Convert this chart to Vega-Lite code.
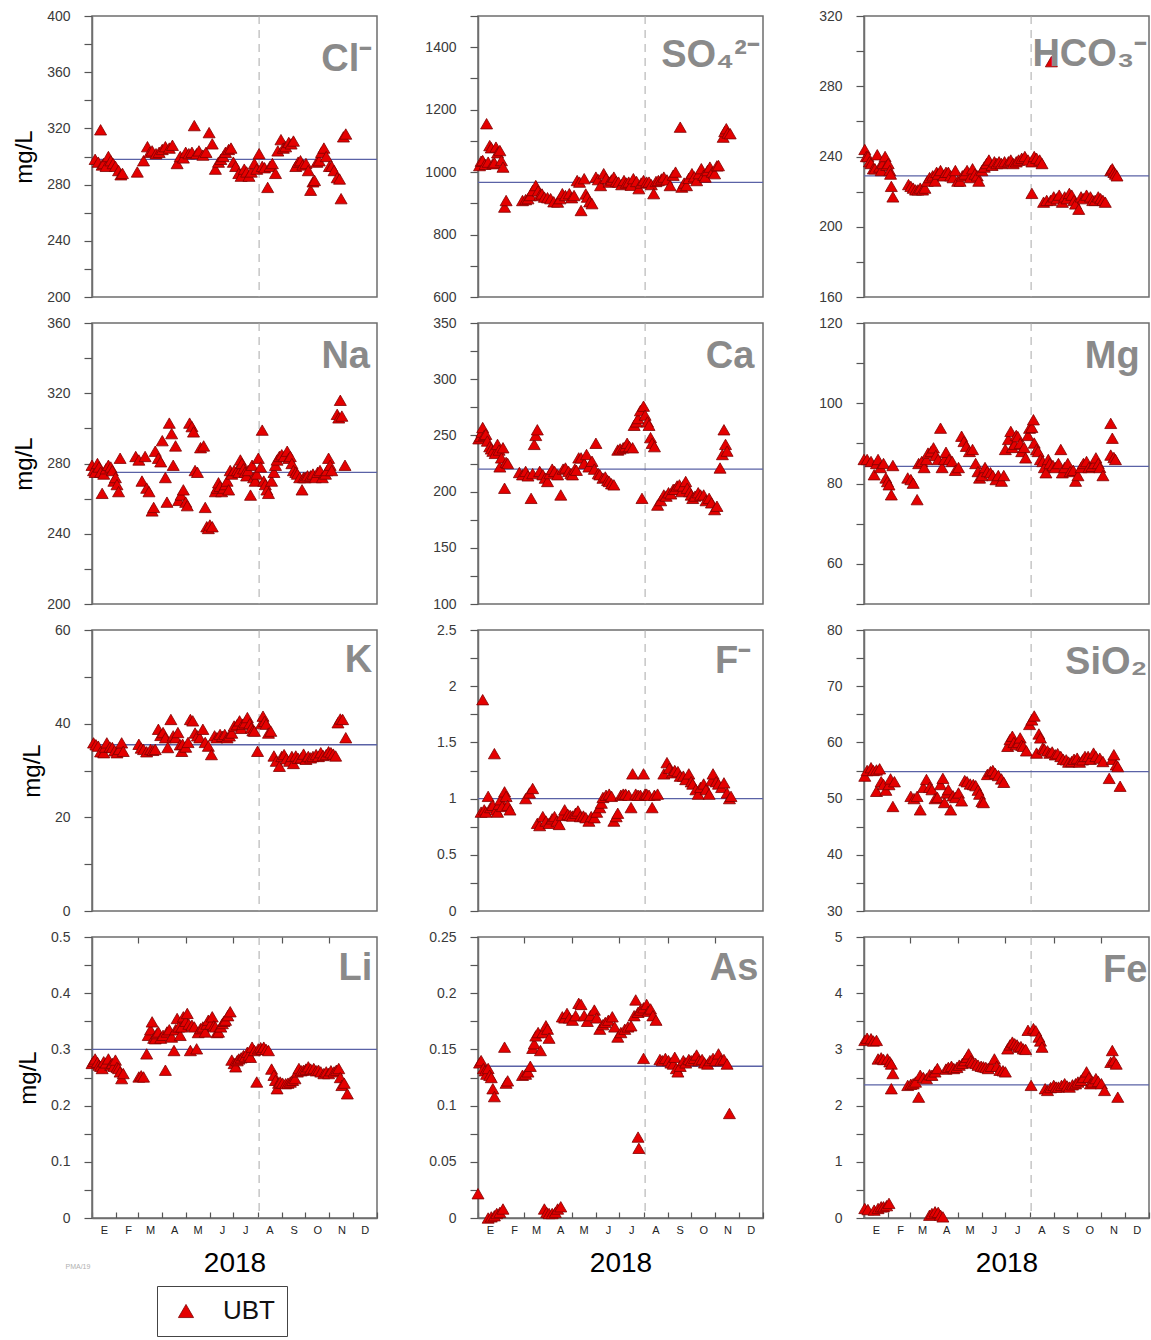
{
"$schema":"https://vega.github.io/schema/vega-lite/v6.json",
"background":"white",
"padding":{"left":11,"top":8,"right":0,"bottom":0},
"config":{
 "font":"Liberation Sans",
 "view":{"stroke":"#6e6e6e","strokeWidth":1.5},
 "axis":{"labelFont":"Liberation Sans","labelFontSize":14,"labelColor":"#3a3a3a","tickColor":"#555","domainColor":"#6e6e6e","domainWidth":1.5,"tickWidth":1.2,"grid":false,"labelFlush":false,"labelOverlap":false,"titleFont":"Liberation Sans","titleFontWeight":"normal","titleColor":"#000"},
 "legend":{"orient":"none","legendX":65,"legendY":1270,"strokeColor":"#444","padding":12,"symbolType":"triangle-up","symbolSize":230,"symbolOffset":4,"symbolStrokeColor":"#800000","symbolStrokeWidth":0.8,"labelFontSize":26,"labelFont":"Liberation Sans","labelColor":"#111","labelOffset":24,"fillColor":"white"}
},
"datasets":{
"ref":[
{"ion":"Cl","mean":298,"cut":214,"label":"Cl⁻"},
{"ion":"SO4","mean":967,"cut":214,"label":"SO₄²⁻"},
{"ion":"HCO3","mean":229,"cut":214,"label":"HCO₃⁻"},
{"ion":"Na","mean":275,"cut":214,"label":"Na"},
{"ion":"Ca","mean":220,"cut":214,"label":"Ca"},
{"ion":"Mg","mean":84.3,"cut":214,"label":"Mg"},
{"ion":"K","mean":35.5,"cut":214,"label":"K"},
{"ion":"F","mean":1.0,"cut":214,"label":"F⁻"},
{"ion":"SiO2","mean":54.8,"cut":214,"label":"SiO₂"},
{"ion":"Li","mean":0.3,"cut":214,"label":"Li"},
{"ion":"As","mean":0.135,"cut":214,"label":"As"},
{"ion":"Fe","mean":2.37,"cut":214,"label":"Fe"}
],
"pts":[
{"ion":"Cl","day":4,"val":298,"site":"UBT"},{"ion":"Cl","day":8,"val":296,"site":"UBT"},{"ion":"Cl","day":11,"val":319,"site":"UBT"},{"ion":"Cl","day":13,"val":294,"site":"UBT"},{"ion":"Cl","day":15,"val":295,"site":"UBT"},{"ion":"Cl","day":18,"val":293,"site":"UBT"},{"ion":"Cl","day":21,"val":300,"site":"UBT"},{"ion":"Cl","day":24,"val":297,"site":"UBT"},{"ion":"Cl","day":27,"val":295,"site":"UBT"},{"ion":"Cl","day":30,"val":293,"site":"UBT"},{"ion":"Cl","day":34,"val":290,"site":"UBT"},{"ion":"Cl","day":37,"val":287,"site":"UBT"},{"ion":"Cl","day":39,"val":288,"site":"UBT"},{"ion":"Cl","day":58,"val":289,"site":"UBT"},{"ion":"Cl","day":66,"val":297,"site":"UBT"},{"ion":"Cl","day":71,"val":307,"site":"UBT"},{"ion":"Cl","day":74,"val":303,"site":"UBT"},{"ion":"Cl","day":77,"val":304,"site":"UBT"},{"ion":"Cl","day":82,"val":302,"site":"UBT"},{"ion":"Cl","day":86,"val":303,"site":"UBT"},{"ion":"Cl","day":90,"val":305,"site":"UBT"},{"ion":"Cl","day":94,"val":307,"site":"UBT"},{"ion":"Cl","day":99,"val":306,"site":"UBT"},{"ion":"Cl","day":103,"val":308,"site":"UBT"},{"ion":"Cl","day":109,"val":295,"site":"UBT"},{"ion":"Cl","day":113,"val":300,"site":"UBT"},{"ion":"Cl","day":117,"val":299,"site":"UBT"},{"ion":"Cl","day":120,"val":303,"site":"UBT"},{"ion":"Cl","day":124,"val":302,"site":"UBT"},{"ion":"Cl","day":128,"val":303,"site":"UBT"},{"ion":"Cl","day":131,"val":322,"site":"UBT"},{"ion":"Cl","day":134,"val":302,"site":"UBT"},{"ion":"Cl","day":137,"val":304,"site":"UBT"},{"ion":"Cl","day":142,"val":301,"site":"UBT"},{"ion":"Cl","day":146,"val":303,"site":"UBT"},{"ion":"Cl","day":150,"val":317,"site":"UBT"},{"ion":"Cl","day":154,"val":309,"site":"UBT"},{"ion":"Cl","day":158,"val":291,"site":"UBT"},{"ion":"Cl","day":162,"val":296,"site":"UBT"},{"ion":"Cl","day":165,"val":298,"site":"UBT"},{"ion":"Cl","day":168,"val":300,"site":"UBT"},{"ion":"Cl","day":171,"val":303,"site":"UBT"},{"ion":"Cl","day":175,"val":305,"site":"UBT"},{"ion":"Cl","day":178,"val":306,"site":"UBT"},{"ion":"Cl","day":181,"val":296,"site":"UBT"},{"ion":"Cl","day":184,"val":293,"site":"UBT"},{"ion":"Cl","day":188,"val":288,"site":"UBT"},{"ion":"Cl","day":191,"val":286,"site":"UBT"},{"ion":"Cl","day":195,"val":291,"site":"UBT"},{"ion":"Cl","day":198,"val":289,"site":"UBT"},{"ion":"Cl","day":201,"val":286,"site":"UBT"},{"ion":"Cl","day":204,"val":289,"site":"UBT"},{"ion":"Cl","day":208,"val":295,"site":"UBT"},{"ion":"Cl","day":211,"val":291,"site":"UBT"},{"ion":"Cl","day":214,"val":302,"site":"UBT"},{"ion":"Cl","day":218,"val":293,"site":"UBT"},{"ion":"Cl","day":221,"val":292,"site":"UBT"},{"ion":"Cl","day":225,"val":278,"site":"UBT"},{"ion":"Cl","day":228,"val":293,"site":"UBT"},{"ion":"Cl","day":231,"val":295,"site":"UBT"},{"ion":"Cl","day":235,"val":288,"site":"UBT"},{"ion":"Cl","day":238,"val":304,"site":"UBT"},{"ion":"Cl","day":242,"val":312,"site":"UBT"},{"ion":"Cl","day":245,"val":306,"site":"UBT"},{"ion":"Cl","day":248,"val":307,"site":"UBT"},{"ion":"Cl","day":252,"val":310,"site":"UBT"},{"ion":"Cl","day":255,"val":309,"site":"UBT"},{"ion":"Cl","day":258,"val":311,"site":"UBT"},{"ion":"Cl","day":261,"val":293,"site":"UBT"},{"ion":"Cl","day":264,"val":296,"site":"UBT"},{"ion":"Cl","day":267,"val":297,"site":"UBT"},{"ion":"Cl","day":270,"val":294,"site":"UBT"},{"ion":"Cl","day":274,"val":295,"site":"UBT"},{"ion":"Cl","day":277,"val":290,"site":"UBT"},{"ion":"Cl","day":280,"val":276,"site":"UBT"},{"ion":"Cl","day":283,"val":282,"site":"UBT"},{"ion":"Cl","day":285,"val":283,"site":"UBT"},{"ion":"Cl","day":288,"val":296,"site":"UBT"},{"ion":"Cl","day":291,"val":297,"site":"UBT"},{"ion":"Cl","day":294,"val":303,"site":"UBT"},{"ion":"Cl","day":297,"val":306,"site":"UBT"},{"ion":"Cl","day":300,"val":300,"site":"UBT"},{"ion":"Cl","day":304,"val":293,"site":"UBT"},{"ion":"Cl","day":307,"val":293,"site":"UBT"},{"ion":"Cl","day":310,"val":290,"site":"UBT"},{"ion":"Cl","day":314,"val":285,"site":"UBT"},{"ion":"Cl","day":317,"val":284,"site":"UBT"},{"ion":"Cl","day":319,"val":270,"site":"UBT"},{"ion":"Cl","day":322,"val":314,"site":"UBT"},{"ion":"Cl","day":325,"val":316,"site":"UBT"},
{"ion":"SO4","day":2,"val":1021,"site":"UBT"},{"ion":"SO4","day":4,"val":1035,"site":"UBT"},{"ion":"SO4","day":6,"val":1037,"site":"UBT"},{"ion":"SO4","day":9,"val":1025,"site":"UBT"},{"ion":"SO4","day":11,"val":1155,"site":"UBT"},{"ion":"SO4","day":13,"val":1032,"site":"UBT"},{"ion":"SO4","day":15,"val":1085,"site":"UBT"},{"ion":"SO4","day":17,"val":1078,"site":"UBT"},{"ion":"SO4","day":19,"val":1027,"site":"UBT"},{"ion":"SO4","day":21,"val":1030,"site":"UBT"},{"ion":"SO4","day":23,"val":1080,"site":"UBT"},{"ion":"SO4","day":25,"val":1062,"site":"UBT"},{"ion":"SO4","day":28,"val":1069,"site":"UBT"},{"ion":"SO4","day":30,"val":1037,"site":"UBT"},{"ion":"SO4","day":32,"val":1016,"site":"UBT"},{"ion":"SO4","day":34,"val":888,"site":"UBT"},{"ion":"SO4","day":36,"val":909,"site":"UBT"},{"ion":"SO4","day":57,"val":909,"site":"UBT"},{"ion":"SO4","day":61,"val":912,"site":"UBT"},{"ion":"SO4","day":64,"val":915,"site":"UBT"},{"ion":"SO4","day":67,"val":925,"site":"UBT"},{"ion":"SO4","day":70,"val":941,"site":"UBT"},{"ion":"SO4","day":74,"val":957,"site":"UBT"},{"ion":"SO4","day":77,"val":940,"site":"UBT"},{"ion":"SO4","day":79,"val":925,"site":"UBT"},{"ion":"SO4","day":82,"val":930,"site":"UBT"},{"ion":"SO4","day":85,"val":920,"site":"UBT"},{"ion":"SO4","day":89,"val":918,"site":"UBT"},{"ion":"SO4","day":93,"val":915,"site":"UBT"},{"ion":"SO4","day":97,"val":905,"site":"UBT"},{"ion":"SO4","day":102,"val":904,"site":"UBT"},{"ion":"SO4","day":105,"val":915,"site":"UBT"},{"ion":"SO4","day":108,"val":931,"site":"UBT"},{"ion":"SO4","day":112,"val":925,"site":"UBT"},{"ion":"SO4","day":117,"val":931,"site":"UBT"},{"ion":"SO4","day":120,"val":918,"site":"UBT"},{"ion":"SO4","day":123,"val":925,"site":"UBT"},{"ion":"SO4","day":127,"val":973,"site":"UBT"},{"ion":"SO4","day":130,"val":968,"site":"UBT"},{"ion":"SO4","day":132,"val":877,"site":"UBT"},{"ion":"SO4","day":136,"val":979,"site":"UBT"},{"ion":"SO4","day":138,"val":930,"site":"UBT"},{"ion":"SO4","day":140,"val":920,"site":"UBT"},{"ion":"SO4","day":143,"val":905,"site":"UBT"},{"ion":"SO4","day":146,"val":899,"site":"UBT"},{"ion":"SO4","day":151,"val":984,"site":"UBT"},{"ion":"SO4","day":154,"val":976,"site":"UBT"},{"ion":"SO4","day":157,"val":957,"site":"UBT"},{"ion":"SO4","day":161,"val":995,"site":"UBT"},{"ion":"SO4","day":164,"val":980,"site":"UBT"},{"ion":"SO4","day":168,"val":968,"site":"UBT"},{"ion":"SO4","day":171,"val":975,"site":"UBT"},{"ion":"SO4","day":174,"val":984,"site":"UBT"},{"ion":"SO4","day":177,"val":970,"site":"UBT"},{"ion":"SO4","day":180,"val":968,"site":"UBT"},{"ion":"SO4","day":184,"val":960,"site":"UBT"},{"ion":"SO4","day":187,"val":973,"site":"UBT"},{"ion":"SO4","day":190,"val":965,"site":"UBT"},{"ion":"SO4","day":193,"val":968,"site":"UBT"},{"ion":"SO4","day":196,"val":958,"site":"UBT"},{"ion":"SO4","day":199,"val":979,"site":"UBT"},{"ion":"SO4","day":203,"val":970,"site":"UBT"},{"ion":"SO4","day":206,"val":947,"site":"UBT"},{"ion":"SO4","day":209,"val":965,"site":"UBT"},{"ion":"SO4","day":212,"val":973,"site":"UBT"},{"ion":"SO4","day":216,"val":968,"site":"UBT"},{"ion":"SO4","day":219,"val":968,"site":"UBT"},{"ion":"SO4","day":222,"val":960,"site":"UBT"},{"ion":"SO4","day":225,"val":931,"site":"UBT"},{"ion":"SO4","day":228,"val":970,"site":"UBT"},{"ion":"SO4","day":231,"val":973,"site":"UBT"},{"ion":"SO4","day":235,"val":978,"site":"UBT"},{"ion":"SO4","day":238,"val":984,"site":"UBT"},{"ion":"SO4","day":242,"val":975,"site":"UBT"},{"ion":"SO4","day":246,"val":957,"site":"UBT"},{"ion":"SO4","day":250,"val":990,"site":"UBT"},{"ion":"SO4","day":253,"val":1000,"site":"UBT"},{"ion":"SO4","day":259,"val":1144,"site":"UBT"},{"ion":"SO4","day":261,"val":952,"site":"UBT"},{"ion":"SO4","day":264,"val":965,"site":"UBT"},{"ion":"SO4","day":267,"val":957,"site":"UBT"},{"ion":"SO4","day":270,"val":980,"site":"UBT"},{"ion":"SO4","day":274,"val":995,"site":"UBT"},{"ion":"SO4","day":277,"val":985,"site":"UBT"},{"ion":"SO4","day":280,"val":973,"site":"UBT"},{"ion":"SO4","day":283,"val":995,"site":"UBT"},{"ion":"SO4","day":286,"val":1011,"site":"UBT"},{"ion":"SO4","day":289,"val":990,"site":"UBT"},{"ion":"SO4","day":291,"val":984,"site":"UBT"},{"ion":"SO4","day":294,"val":1005,"site":"UBT"},{"ion":"SO4","day":297,"val":1016,"site":"UBT"},{"ion":"SO4","day":300,"val":1000,"site":"UBT"},{"ion":"SO4","day":303,"val":995,"site":"UBT"},{"ion":"SO4","day":306,"val":1020,"site":"UBT"},{"ion":"SO4","day":308,"val":1021,"site":"UBT"},{"ion":"SO4","day":314,"val":1112,"site":"UBT"},{"ion":"SO4","day":316,"val":1130,"site":"UBT"},{"ion":"SO4","day":318,"val":1139,"site":"UBT"},{"ion":"SO4","day":320,"val":1125,"site":"UBT"},{"ion":"SO4","day":323,"val":1123,"site":"UBT"},
{"ion":"HCO3","day":1,"val":244,"site":"UBT"},{"ion":"HCO3","day":3,"val":240,"site":"UBT"},{"ion":"HCO3","day":5,"val":240,"site":"UBT"},{"ion":"HCO3","day":7,"val":237,"site":"UBT"},{"ion":"HCO3","day":9,"val":236,"site":"UBT"},{"ion":"HCO3","day":12,"val":233,"site":"UBT"},{"ion":"HCO3","day":14,"val":233,"site":"UBT"},{"ion":"HCO3","day":17,"val":241,"site":"UBT"},{"ion":"HCO3","day":20,"val":234,"site":"UBT"},{"ion":"HCO3","day":22,"val":232,"site":"UBT"},{"ion":"HCO3","day":24,"val":236,"site":"UBT"},{"ion":"HCO3","day":27,"val":240,"site":"UBT"},{"ion":"HCO3","day":29,"val":235,"site":"UBT"},{"ion":"HCO3","day":31,"val":236,"site":"UBT"},{"ion":"HCO3","day":33,"val":232,"site":"UBT"},{"ion":"HCO3","day":34,"val":230,"site":"UBT"},{"ion":"HCO3","day":35,"val":223,"site":"UBT"},{"ion":"HCO3","day":37,"val":217,"site":"UBT"},{"ion":"HCO3","day":57,"val":224,"site":"UBT"},{"ion":"HCO3","day":60,"val":223,"site":"UBT"},{"ion":"HCO3","day":63,"val":222,"site":"UBT"},{"ion":"HCO3","day":66,"val":221,"site":"UBT"},{"ion":"HCO3","day":69,"val":221,"site":"UBT"},{"ion":"HCO3","day":72,"val":222,"site":"UBT"},{"ion":"HCO3","day":75,"val":221,"site":"UBT"},{"ion":"HCO3","day":78,"val":222,"site":"UBT"},{"ion":"HCO3","day":81,"val":226,"site":"UBT"},{"ion":"HCO3","day":84,"val":228,"site":"UBT"},{"ion":"HCO3","day":88,"val":229,"site":"UBT"},{"ion":"HCO3","day":91,"val":226,"site":"UBT"},{"ion":"HCO3","day":93,"val":231,"site":"UBT"},{"ion":"HCO3","day":95,"val":230,"site":"UBT"},{"ion":"HCO3","day":98,"val":232,"site":"UBT"},{"ion":"HCO3","day":102,"val":229,"site":"UBT"},{"ion":"HCO3","day":105,"val":231,"site":"UBT"},{"ion":"HCO3","day":108,"val":231,"site":"UBT"},{"ion":"HCO3","day":111,"val":229,"site":"UBT"},{"ion":"HCO3","day":114,"val":228,"site":"UBT"},{"ion":"HCO3","day":117,"val":232,"site":"UBT"},{"ion":"HCO3","day":120,"val":226,"site":"UBT"},{"ion":"HCO3","day":123,"val":226,"site":"UBT"},{"ion":"HCO3","day":126,"val":229,"site":"UBT"},{"ion":"HCO3","day":129,"val":230,"site":"UBT"},{"ion":"HCO3","day":132,"val":232,"site":"UBT"},{"ion":"HCO3","day":136,"val":228,"site":"UBT"},{"ion":"HCO3","day":139,"val":233,"site":"UBT"},{"ion":"HCO3","day":142,"val":230,"site":"UBT"},{"ion":"HCO3","day":145,"val":229,"site":"UBT"},{"ion":"HCO3","day":147,"val":226,"site":"UBT"},{"ion":"HCO3","day":151,"val":232,"site":"UBT"},{"ion":"HCO3","day":154,"val":234,"site":"UBT"},{"ion":"HCO3","day":157,"val":236,"site":"UBT"},{"ion":"HCO3","day":160,"val":238,"site":"UBT"},{"ion":"HCO3","day":164,"val":235,"site":"UBT"},{"ion":"HCO3","day":167,"val":237,"site":"UBT"},{"ion":"HCO3","day":170,"val":236,"site":"UBT"},{"ion":"HCO3","day":173,"val":237,"site":"UBT"},{"ion":"HCO3","day":176,"val":236,"site":"UBT"},{"ion":"HCO3","day":180,"val":237,"site":"UBT"},{"ion":"HCO3","day":185,"val":237,"site":"UBT"},{"ion":"HCO3","day":188,"val":238,"site":"UBT"},{"ion":"HCO3","day":191,"val":236,"site":"UBT"},{"ion":"HCO3","day":195,"val":237,"site":"UBT"},{"ion":"HCO3","day":198,"val":238,"site":"UBT"},{"ion":"HCO3","day":202,"val":239,"site":"UBT"},{"ion":"HCO3","day":206,"val":240,"site":"UBT"},{"ion":"HCO3","day":210,"val":238,"site":"UBT"},{"ion":"HCO3","day":215,"val":237,"site":"UBT"},{"ion":"HCO3","day":215,"val":219,"site":"UBT"},{"ion":"HCO3","day":218,"val":240,"site":"UBT"},{"ion":"HCO3","day":221,"val":239,"site":"UBT"},{"ion":"HCO3","day":225,"val":238,"site":"UBT"},{"ion":"HCO3","day":228,"val":236,"site":"UBT"},{"ion":"HCO3","day":230,"val":214,"site":"UBT"},{"ion":"HCO3","day":234,"val":215,"site":"UBT"},{"ion":"HCO3","day":239,"val":215,"site":"UBT"},{"ion":"HCO3","day":243,"val":217,"site":"UBT"},{"ion":"HCO3","day":247,"val":216,"site":"UBT"},{"ion":"HCO3","day":250,"val":218,"site":"UBT"},{"ion":"HCO3","day":254,"val":214,"site":"UBT"},{"ion":"HCO3","day":257,"val":217,"site":"UBT"},{"ion":"HCO3","day":260,"val":216,"site":"UBT"},{"ion":"HCO3","day":263,"val":219,"site":"UBT"},{"ion":"HCO3","day":266,"val":218,"site":"UBT"},{"ion":"HCO3","day":269,"val":215,"site":"UBT"},{"ion":"HCO3","day":271,"val":213,"site":"UBT"},{"ion":"HCO3","day":275,"val":210,"site":"UBT"},{"ion":"HCO3","day":278,"val":217,"site":"UBT"},{"ion":"HCO3","day":281,"val":216,"site":"UBT"},{"ion":"HCO3","day":285,"val":218,"site":"UBT"},{"ion":"HCO3","day":290,"val":217,"site":"UBT"},{"ion":"HCO3","day":293,"val":215,"site":"UBT"},{"ion":"HCO3","day":296,"val":215,"site":"UBT"},{"ion":"HCO3","day":300,"val":217,"site":"UBT"},{"ion":"HCO3","day":303,"val":216,"site":"UBT"},{"ion":"HCO3","day":306,"val":215,"site":"UBT"},{"ion":"HCO3","day":309,"val":214,"site":"UBT"},{"ion":"HCO3","day":316,"val":232,"site":"UBT"},{"ion":"HCO3","day":318,"val":233,"site":"UBT"},{"ion":"HCO3","day":320,"val":231,"site":"UBT"},{"ion":"HCO3","day":322,"val":230,"site":"UBT"},{"ion":"HCO3","day":324,"val":229,"site":"UBT"},{"ion":"HCO3","day":240,"val":294,"site":"UBT"},
{"ion":"Na","day":0,"val":279,"site":"UBT"},{"ion":"Na","day":2,"val":276,"site":"UBT"},{"ion":"Na","day":4,"val":275,"site":"UBT"},{"ion":"Na","day":7,"val":280,"site":"UBT"},{"ion":"Na","day":9,"val":278,"site":"UBT"},{"ion":"Na","day":11,"val":275,"site":"UBT"},{"ion":"Na","day":13,"val":263,"site":"UBT"},{"ion":"Na","day":15,"val":274,"site":"UBT"},{"ion":"Na","day":18,"val":277,"site":"UBT"},{"ion":"Na","day":21,"val":279,"site":"UBT"},{"ion":"Na","day":24,"val":278,"site":"UBT"},{"ion":"Na","day":26,"val":276,"site":"UBT"},{"ion":"Na","day":28,"val":270,"site":"UBT"},{"ion":"Na","day":30,"val":272,"site":"UBT"},{"ion":"Na","day":32,"val":268,"site":"UBT"},{"ion":"Na","day":34,"val":264,"site":"UBT"},{"ion":"Na","day":36,"val":283,"site":"UBT"},{"ion":"Na","day":56,"val":284,"site":"UBT"},{"ion":"Na","day":60,"val":282,"site":"UBT"},{"ion":"Na","day":64,"val":270,"site":"UBT"},{"ion":"Na","day":68,"val":284,"site":"UBT"},{"ion":"Na","day":70,"val":266,"site":"UBT"},{"ion":"Na","day":73,"val":264,"site":"UBT"},{"ion":"Na","day":77,"val":253,"site":"UBT"},{"ion":"Na","day":79,"val":255,"site":"UBT"},{"ion":"Na","day":81,"val":287,"site":"UBT"},{"ion":"Na","day":85,"val":283,"site":"UBT"},{"ion":"Na","day":88,"val":281,"site":"UBT"},{"ion":"Na","day":90,"val":293,"site":"UBT"},{"ion":"Na","day":94,"val":272,"site":"UBT"},{"ion":"Na","day":96,"val":258,"site":"UBT"},{"ion":"Na","day":99,"val":303,"site":"UBT"},{"ion":"Na","day":102,"val":297,"site":"UBT"},{"ion":"Na","day":104,"val":279,"site":"UBT"},{"ion":"Na","day":107,"val":290,"site":"UBT"},{"ion":"Na","day":111,"val":259,"site":"UBT"},{"ion":"Na","day":114,"val":262,"site":"UBT"},{"ion":"Na","day":117,"val":265,"site":"UBT"},{"ion":"Na","day":120,"val":258,"site":"UBT"},{"ion":"Na","day":122,"val":256,"site":"UBT"},{"ion":"Na","day":125,"val":303,"site":"UBT"},{"ion":"Na","day":128,"val":301,"site":"UBT"},{"ion":"Na","day":130,"val":298,"site":"UBT"},{"ion":"Na","day":132,"val":276,"site":"UBT"},{"ion":"Na","day":135,"val":275,"site":"UBT"},{"ion":"Na","day":139,"val":289,"site":"UBT"},{"ion":"Na","day":143,"val":290,"site":"UBT"},{"ion":"Na","day":145,"val":255,"site":"UBT"},{"ion":"Na","day":147,"val":244,"site":"UBT"},{"ion":"Na","day":149,"val":243,"site":"UBT"},{"ion":"Na","day":151,"val":245,"site":"UBT"},{"ion":"Na","day":154,"val":244,"site":"UBT"},{"ion":"Na","day":158,"val":264,"site":"UBT"},{"ion":"Na","day":160,"val":266,"site":"UBT"},{"ion":"Na","day":162,"val":269,"site":"UBT"},{"ion":"Na","day":164,"val":267,"site":"UBT"},{"ion":"Na","day":166,"val":264,"site":"UBT"},{"ion":"Na","day":169,"val":266,"site":"UBT"},{"ion":"Na","day":171,"val":268,"site":"UBT"},{"ion":"Na","day":173,"val":270,"site":"UBT"},{"ion":"Na","day":175,"val":265,"site":"UBT"},{"ion":"Na","day":177,"val":276,"site":"UBT"},{"ion":"Na","day":179,"val":274,"site":"UBT"},{"ion":"Na","day":182,"val":276,"site":"UBT"},{"ion":"Na","day":186,"val":276,"site":"UBT"},{"ion":"Na","day":188,"val":275,"site":"UBT"},{"ion":"Na","day":190,"val":282,"site":"UBT"},{"ion":"Na","day":192,"val":280,"site":"UBT"},{"ion":"Na","day":194,"val":277,"site":"UBT"},{"ion":"Na","day":196,"val":275,"site":"UBT"},{"ion":"Na","day":198,"val":273,"site":"UBT"},{"ion":"Na","day":200,"val":276,"site":"UBT"},{"ion":"Na","day":203,"val":262,"site":"UBT"},{"ion":"Na","day":205,"val":279,"site":"UBT"},{"ion":"Na","day":207,"val":272,"site":"UBT"},{"ion":"Na","day":209,"val":270,"site":"UBT"},{"ion":"Na","day":211,"val":274,"site":"UBT"},{"ion":"Na","day":213,"val":283,"site":"UBT"},{"ion":"Na","day":216,"val":278,"site":"UBT"},{"ion":"Na","day":218,"val":299,"site":"UBT"},{"ion":"Na","day":220,"val":270,"site":"UBT"},{"ion":"Na","day":222,"val":268,"site":"UBT"},{"ion":"Na","day":224,"val":265,"site":"UBT"},{"ion":"Na","day":226,"val":263,"site":"UBT"},{"ion":"Na","day":230,"val":270,"site":"UBT"},{"ion":"Na","day":233,"val":275,"site":"UBT"},{"ion":"Na","day":235,"val":279,"site":"UBT"},{"ion":"Na","day":237,"val":282,"site":"UBT"},{"ion":"Na","day":240,"val":284,"site":"UBT"},{"ion":"Na","day":243,"val":285,"site":"UBT"},{"ion":"Na","day":246,"val":284,"site":"UBT"},{"ion":"Na","day":250,"val":287,"site":"UBT"},{"ion":"Na","day":252,"val":283,"site":"UBT"},{"ion":"Na","day":254,"val":284,"site":"UBT"},{"ion":"Na","day":256,"val":280,"site":"UBT"},{"ion":"Na","day":258,"val":276,"site":"UBT"},{"ion":"Na","day":261,"val":275,"site":"UBT"},{"ion":"Na","day":263,"val":274,"site":"UBT"},{"ion":"Na","day":266,"val":272,"site":"UBT"},{"ion":"Na","day":269,"val":265,"site":"UBT"},{"ion":"Na","day":271,"val":272,"site":"UBT"},{"ion":"Na","day":273,"val":272,"site":"UBT"},{"ion":"Na","day":276,"val":273,"site":"UBT"},{"ion":"Na","day":280,"val":273,"site":"UBT"},{"ion":"Na","day":283,"val":274,"site":"UBT"},{"ion":"Na","day":286,"val":272,"site":"UBT"},{"ion":"Na","day":289,"val":275,"site":"UBT"},{"ion":"Na","day":292,"val":276,"site":"UBT"},{"ion":"Na","day":295,"val":272,"site":"UBT"},{"ion":"Na","day":299,"val":274,"site":"UBT"},{"ion":"Na","day":301,"val":276,"site":"UBT"},{"ion":"Na","day":303,"val":283,"site":"UBT"},{"ion":"Na","day":305,"val":279,"site":"UBT"},{"ion":"Na","day":307,"val":276,"site":"UBT"},{"ion":"Na","day":314,"val":308,"site":"UBT"},{"ion":"Na","day":316,"val":306,"site":"UBT"},{"ion":"Na","day":318,"val":316,"site":"UBT"},{"ion":"Na","day":320,"val":307,"site":"UBT"},{"ion":"Na","day":324,"val":279,"site":"UBT"},
{"ion":"Ca","day":1,"val":247,"site":"UBT"},{"ion":"Ca","day":3,"val":249,"site":"UBT"},{"ion":"Ca","day":5,"val":253,"site":"UBT"},{"ion":"Ca","day":6,"val":257,"site":"UBT"},{"ion":"Ca","day":8,"val":250,"site":"UBT"},{"ion":"Ca","day":10,"val":251,"site":"UBT"},{"ion":"Ca","day":12,"val":245,"site":"UBT"},{"ion":"Ca","day":15,"val":240,"site":"UBT"},{"ion":"Ca","day":17,"val":238,"site":"UBT"},{"ion":"Ca","day":19,"val":236,"site":"UBT"},{"ion":"Ca","day":22,"val":234,"site":"UBT"},{"ion":"Ca","day":25,"val":242,"site":"UBT"},{"ion":"Ca","day":27,"val":237,"site":"UBT"},{"ion":"Ca","day":28,"val":222,"site":"UBT"},{"ion":"Ca","day":30,"val":230,"site":"UBT"},{"ion":"Ca","day":32,"val":239,"site":"UBT"},{"ion":"Ca","day":34,"val":203,"site":"UBT"},{"ion":"Ca","day":36,"val":226,"site":"UBT"},{"ion":"Ca","day":38,"val":225,"site":"UBT"},{"ion":"Ca","day":53,"val":217,"site":"UBT"},{"ion":"Ca","day":57,"val":215,"site":"UBT"},{"ion":"Ca","day":61,"val":218,"site":"UBT"},{"ion":"Ca","day":64,"val":214,"site":"UBT"},{"ion":"Ca","day":68,"val":194,"site":"UBT"},{"ion":"Ca","day":70,"val":216,"site":"UBT"},{"ion":"Ca","day":72,"val":242,"site":"UBT"},{"ion":"Ca","day":74,"val":250,"site":"UBT"},{"ion":"Ca","day":76,"val":255,"site":"UBT"},{"ion":"Ca","day":79,"val":218,"site":"UBT"},{"ion":"Ca","day":83,"val":215,"site":"UBT"},{"ion":"Ca","day":86,"val":212,"site":"UBT"},{"ion":"Ca","day":89,"val":209,"site":"UBT"},{"ion":"Ca","day":92,"val":216,"site":"UBT"},{"ion":"Ca","day":95,"val":220,"site":"UBT"},{"ion":"Ca","day":98,"val":218,"site":"UBT"},{"ion":"Ca","day":102,"val":215,"site":"UBT"},{"ion":"Ca","day":106,"val":197,"site":"UBT"},{"ion":"Ca","day":109,"val":220,"site":"UBT"},{"ion":"Ca","day":112,"val":221,"site":"UBT"},{"ion":"Ca","day":116,"val":218,"site":"UBT"},{"ion":"Ca","day":119,"val":216,"site":"UBT"},{"ion":"Ca","day":121,"val":215,"site":"UBT"},{"ion":"Ca","day":124,"val":220,"site":"UBT"},{"ion":"Ca","day":126,"val":219,"site":"UBT"},{"ion":"Ca","day":129,"val":230,"site":"UBT"},{"ion":"Ca","day":132,"val":230,"site":"UBT"},{"ion":"Ca","day":136,"val":225,"site":"UBT"},{"ion":"Ca","day":139,"val":233,"site":"UBT"},{"ion":"Ca","day":142,"val":222,"site":"UBT"},{"ion":"Ca","day":146,"val":227,"site":"UBT"},{"ion":"Ca","day":149,"val":220,"site":"UBT"},{"ion":"Ca","day":151,"val":243,"site":"UBT"},{"ion":"Ca","day":154,"val":216,"site":"UBT"},{"ion":"Ca","day":156,"val":215,"site":"UBT"},{"ion":"Ca","day":160,"val":212,"site":"UBT"},{"ion":"Ca","day":163,"val":213,"site":"UBT"},{"ion":"Ca","day":166,"val":210,"site":"UBT"},{"ion":"Ca","day":168,"val":209,"site":"UBT"},{"ion":"Ca","day":171,"val":207,"site":"UBT"},{"ion":"Ca","day":174,"val":206,"site":"UBT"},{"ion":"Ca","day":179,"val":237,"site":"UBT"},{"ion":"Ca","day":182,"val":238,"site":"UBT"},{"ion":"Ca","day":186,"val":239,"site":"UBT"},{"ion":"Ca","day":189,"val":240,"site":"UBT"},{"ion":"Ca","day":191,"val":243,"site":"UBT"},{"ion":"Ca","day":194,"val":240,"site":"UBT"},{"ion":"Ca","day":198,"val":239,"site":"UBT"},{"ion":"Ca","day":200,"val":259,"site":"UBT"},{"ion":"Ca","day":203,"val":262,"site":"UBT"},{"ion":"Ca","day":205,"val":265,"site":"UBT"},{"ion":"Ca","day":208,"val":272,"site":"UBT"},{"ion":"Ca","day":210,"val":194,"site":"UBT"},{"ion":"Ca","day":212,"val":276,"site":"UBT"},{"ion":"Ca","day":214,"val":268,"site":"UBT"},{"ion":"Ca","day":217,"val":262,"site":"UBT"},{"ion":"Ca","day":219,"val":259,"site":"UBT"},{"ion":"Ca","day":221,"val":248,"site":"UBT"},{"ion":"Ca","day":223,"val":243,"site":"UBT"},{"ion":"Ca","day":226,"val":240,"site":"UBT"},{"ion":"Ca","day":230,"val":188,"site":"UBT"},{"ion":"Ca","day":234,"val":192,"site":"UBT"},{"ion":"Ca","day":238,"val":197,"site":"UBT"},{"ion":"Ca","day":241,"val":196,"site":"UBT"},{"ion":"Ca","day":244,"val":199,"site":"UBT"},{"ion":"Ca","day":247,"val":198,"site":"UBT"},{"ion":"Ca","day":250,"val":202,"site":"UBT"},{"ion":"Ca","day":252,"val":202,"site":"UBT"},{"ion":"Ca","day":255,"val":205,"site":"UBT"},{"ion":"Ca","day":258,"val":206,"site":"UBT"},{"ion":"Ca","day":261,"val":200,"site":"UBT"},{"ion":"Ca","day":263,"val":205,"site":"UBT"},{"ion":"Ca","day":266,"val":209,"site":"UBT"},{"ion":"Ca","day":268,"val":203,"site":"UBT"},{"ion":"Ca","day":271,"val":200,"site":"UBT"},{"ion":"Ca","day":273,"val":197,"site":"UBT"},{"ion":"Ca","day":275,"val":194,"site":"UBT"},{"ion":"Ca","day":278,"val":196,"site":"UBT"},{"ion":"Ca","day":282,"val":199,"site":"UBT"},{"ion":"Ca","day":285,"val":197,"site":"UBT"},{"ion":"Ca","day":289,"val":197,"site":"UBT"},{"ion":"Ca","day":292,"val":192,"site":"UBT"},{"ion":"Ca","day":296,"val":194,"site":"UBT"},{"ion":"Ca","day":299,"val":190,"site":"UBT"},{"ion":"Ca","day":303,"val":184,"site":"UBT"},{"ion":"Ca","day":306,"val":187,"site":"UBT"},{"ion":"Ca","day":310,"val":221,"site":"UBT"},{"ion":"Ca","day":313,"val":233,"site":"UBT"},{"ion":"Ca","day":315,"val":255,"site":"UBT"},{"ion":"Ca","day":317,"val":242,"site":"UBT"},{"ion":"Ca","day":319,"val":236,"site":"UBT"},
{"ion":"Mg","day":0,"val":86,"site":"UBT"},{"ion":"Mg","day":4,"val":86,"site":"UBT"},{"ion":"Mg","day":9,"val":85.5,"site":"UBT"},{"ion":"Mg","day":13,"val":82.2,"site":"UBT"},{"ion":"Mg","day":16,"val":85,"site":"UBT"},{"ion":"Mg","day":18,"val":86,"site":"UBT"},{"ion":"Mg","day":21,"val":84,"site":"UBT"},{"ion":"Mg","day":25,"val":85,"site":"UBT"},{"ion":"Mg","day":28,"val":81.4,"site":"UBT"},{"ion":"Mg","day":30,"val":80.5,"site":"UBT"},{"ion":"Mg","day":32,"val":79.7,"site":"UBT"},{"ion":"Mg","day":35,"val":77.2,"site":"UBT"},{"ion":"Mg","day":37,"val":84.5,"site":"UBT"},{"ion":"Mg","day":56,"val":81.4,"site":"UBT"},{"ion":"Mg","day":60,"val":81,"site":"UBT"},{"ion":"Mg","day":63,"val":80.1,"site":"UBT"},{"ion":"Mg","day":68,"val":76,"site":"UBT"},{"ion":"Mg","day":70,"val":85,"site":"UBT"},{"ion":"Mg","day":74,"val":85.5,"site":"UBT"},{"ion":"Mg","day":77,"val":84,"site":"UBT"},{"ion":"Mg","day":80,"val":86,"site":"UBT"},{"ion":"Mg","day":82,"val":87.6,"site":"UBT"},{"ion":"Mg","day":86,"val":88,"site":"UBT"},{"ion":"Mg","day":89,"val":88.9,"site":"UBT"},{"ion":"Mg","day":92,"val":87,"site":"UBT"},{"ion":"Mg","day":95,"val":86,"site":"UBT"},{"ion":"Mg","day":98,"val":93.8,"site":"UBT"},{"ion":"Mg","day":100,"val":84,"site":"UBT"},{"ion":"Mg","day":103,"val":86,"site":"UBT"},{"ion":"Mg","day":105,"val":87.8,"site":"UBT"},{"ion":"Mg","day":109,"val":86,"site":"UBT"},{"ion":"Mg","day":113,"val":85.5,"site":"UBT"},{"ion":"Mg","day":117,"val":83.3,"site":"UBT"},{"ion":"Mg","day":121,"val":84,"site":"UBT"},{"ion":"Mg","day":125,"val":91.8,"site":"UBT"},{"ion":"Mg","day":128,"val":90.5,"site":"UBT"},{"ion":"Mg","day":131,"val":89.3,"site":"UBT"},{"ion":"Mg","day":135,"val":88,"site":"UBT"},{"ion":"Mg","day":139,"val":88.5,"site":"UBT"},{"ion":"Mg","day":143,"val":85,"site":"UBT"},{"ion":"Mg","day":146,"val":83,"site":"UBT"},{"ion":"Mg","day":148,"val":81.4,"site":"UBT"},{"ion":"Mg","day":151,"val":82,"site":"UBT"},{"ion":"Mg","day":155,"val":84,"site":"UBT"},{"ion":"Mg","day":158,"val":83,"site":"UBT"},{"ion":"Mg","day":162,"val":82.7,"site":"UBT"},{"ion":"Mg","day":165,"val":82,"site":"UBT"},{"ion":"Mg","day":169,"val":81,"site":"UBT"},{"ion":"Mg","day":172,"val":82,"site":"UBT"},{"ion":"Mg","day":176,"val":80.6,"site":"UBT"},{"ion":"Mg","day":179,"val":82,"site":"UBT"},{"ion":"Mg","day":181,"val":88.5,"site":"UBT"},{"ion":"Mg","day":185,"val":91,"site":"UBT"},{"ion":"Mg","day":188,"val":93,"site":"UBT"},{"ion":"Mg","day":190,"val":89,"site":"UBT"},{"ion":"Mg","day":193,"val":89.8,"site":"UBT"},{"ion":"Mg","day":195,"val":92,"site":"UBT"},{"ion":"Mg","day":197,"val":91.7,"site":"UBT"},{"ion":"Mg","day":200,"val":90,"site":"UBT"},{"ion":"Mg","day":202,"val":88,"site":"UBT"},{"ion":"Mg","day":205,"val":89,"site":"UBT"},{"ion":"Mg","day":207,"val":86.4,"site":"UBT"},{"ion":"Mg","day":210,"val":92,"site":"UBT"},{"ion":"Mg","day":212,"val":93.8,"site":"UBT"},{"ion":"Mg","day":215,"val":94,"site":"UBT"},{"ion":"Mg","day":217,"val":95.9,"site":"UBT"},{"ion":"Mg","day":218,"val":90.1,"site":"UBT"},{"ion":"Mg","day":221,"val":88.5,"site":"UBT"},{"ion":"Mg","day":223,"val":88,"site":"UBT"},{"ion":"Mg","day":226,"val":86,"site":"UBT"},{"ion":"Mg","day":229,"val":85.5,"site":"UBT"},{"ion":"Mg","day":231,"val":84,"site":"UBT"},{"ion":"Mg","day":233,"val":82.7,"site":"UBT"},{"ion":"Mg","day":236,"val":86,"site":"UBT"},{"ion":"Mg","day":238,"val":85,"site":"UBT"},{"ion":"Mg","day":242,"val":84.5,"site":"UBT"},{"ion":"Mg","day":245,"val":84,"site":"UBT"},{"ion":"Mg","day":249,"val":85,"site":"UBT"},{"ion":"Mg","day":252,"val":88.5,"site":"UBT"},{"ion":"Mg","day":254,"val":82.7,"site":"UBT"},{"ion":"Mg","day":257,"val":84,"site":"UBT"},{"ion":"Mg","day":261,"val":85,"site":"UBT"},{"ion":"Mg","day":264,"val":83,"site":"UBT"},{"ion":"Mg","day":268,"val":83.3,"site":"UBT"},{"ion":"Mg","day":271,"val":80.6,"site":"UBT"},{"ion":"Mg","day":274,"val":82,"site":"UBT"},{"ion":"Mg","day":278,"val":84,"site":"UBT"},{"ion":"Mg","day":281,"val":85,"site":"UBT"},{"ion":"Mg","day":285,"val":85.5,"site":"UBT"},{"ion":"Mg","day":288,"val":84,"site":"UBT"},{"ion":"Mg","day":292,"val":84.3,"site":"UBT"},{"ion":"Mg","day":295,"val":85,"site":"UBT"},{"ion":"Mg","day":297,"val":86.4,"site":"UBT"},{"ion":"Mg","day":300,"val":85,"site":"UBT"},{"ion":"Mg","day":302,"val":84,"site":"UBT"},{"ion":"Mg","day":306,"val":82,"site":"UBT"},{"ion":"Mg","day":316,"val":95,"site":"UBT"},{"ion":"Mg","day":318,"val":91.3,"site":"UBT"},{"ion":"Mg","day":316,"val":87.1,"site":"UBT"},{"ion":"Mg","day":320,"val":86.5,"site":"UBT"},{"ion":"Mg","day":322,"val":86,"site":"UBT"},
{"ion":"K","day":2,"val":35.9,"site":"UBT"},{"ion":"K","day":5,"val":35.5,"site":"UBT"},{"ion":"K","day":8,"val":35.2,"site":"UBT"},{"ion":"K","day":11,"val":34,"site":"UBT"},{"ion":"K","day":15,"val":33.8,"site":"UBT"},{"ion":"K","day":17,"val":35,"site":"UBT"},{"ion":"K","day":19,"val":35.9,"site":"UBT"},{"ion":"K","day":23,"val":35,"site":"UBT"},{"ion":"K","day":26,"val":34.9,"site":"UBT"},{"ion":"K","day":29,"val":34.2,"site":"UBT"},{"ion":"K","day":32,"val":33.8,"site":"UBT"},{"ion":"K","day":35,"val":34.5,"site":"UBT"},{"ion":"K","day":38,"val":35.9,"site":"UBT"},{"ion":"K","day":40,"val":34.1,"site":"UBT"},{"ion":"K","day":60,"val":35.6,"site":"UBT"},{"ion":"K","day":63,"val":34.8,"site":"UBT"},{"ion":"K","day":66,"val":34.5,"site":"UBT"},{"ion":"K","day":70,"val":34,"site":"UBT"},{"ion":"K","day":75,"val":34.5,"site":"UBT"},{"ion":"K","day":78,"val":34.3,"site":"UBT"},{"ion":"K","day":81,"val":34.5,"site":"UBT"},{"ion":"K","day":85,"val":38.8,"site":"UBT"},{"ion":"K","day":88,"val":37.5,"site":"UBT"},{"ion":"K","day":91,"val":38.1,"site":"UBT"},{"ion":"K","day":94,"val":37,"site":"UBT"},{"ion":"K","day":97,"val":34.9,"site":"UBT"},{"ion":"K","day":101,"val":40.9,"site":"UBT"},{"ion":"K","day":104,"val":37.4,"site":"UBT"},{"ion":"K","day":107,"val":37,"site":"UBT"},{"ion":"K","day":110,"val":38.1,"site":"UBT"},{"ion":"K","day":113,"val":35.5,"site":"UBT"},{"ion":"K","day":115,"val":34.1,"site":"UBT"},{"ion":"K","day":116,"val":35.6,"site":"UBT"},{"ion":"K","day":120,"val":35,"site":"UBT"},{"ion":"K","day":123,"val":36,"site":"UBT"},{"ion":"K","day":126,"val":40.9,"site":"UBT"},{"ion":"K","day":129,"val":40.6,"site":"UBT"},{"ion":"K","day":132,"val":38,"site":"UBT"},{"ion":"K","day":135,"val":37.4,"site":"UBT"},{"ion":"K","day":138,"val":37,"site":"UBT"},{"ion":"K","day":142,"val":38.8,"site":"UBT"},{"ion":"K","day":145,"val":36,"site":"UBT"},{"ion":"K","day":149,"val":35.2,"site":"UBT"},{"ion":"K","day":153,"val":33.4,"site":"UBT"},{"ion":"K","day":157,"val":37.4,"site":"UBT"},{"ion":"K","day":160,"val":37,"site":"UBT"},{"ion":"K","day":164,"val":37.7,"site":"UBT"},{"ion":"K","day":167,"val":37.3,"site":"UBT"},{"ion":"K","day":170,"val":37.7,"site":"UBT"},{"ion":"K","day":173,"val":37,"site":"UBT"},{"ion":"K","day":176,"val":37.4,"site":"UBT"},{"ion":"K","day":179,"val":38,"site":"UBT"},{"ion":"K","day":182,"val":39.5,"site":"UBT"},{"ion":"K","day":186,"val":39.8,"site":"UBT"},{"ion":"K","day":189,"val":40.6,"site":"UBT"},{"ion":"K","day":191,"val":39,"site":"UBT"},{"ion":"K","day":193,"val":39.9,"site":"UBT"},{"ion":"K","day":196,"val":40.2,"site":"UBT"},{"ion":"K","day":199,"val":41.3,"site":"UBT"},{"ion":"K","day":202,"val":40,"site":"UBT"},{"ion":"K","day":204,"val":39.1,"site":"UBT"},{"ion":"K","day":206,"val":38.5,"site":"UBT"},{"ion":"K","day":208,"val":38.4,"site":"UBT"},{"ion":"K","day":212,"val":34.1,"site":"UBT"},{"ion":"K","day":217,"val":40,"site":"UBT"},{"ion":"K","day":219,"val":41.6,"site":"UBT"},{"ion":"K","day":221,"val":40.5,"site":"UBT"},{"ion":"K","day":223,"val":39.9,"site":"UBT"},{"ion":"K","day":226,"val":38,"site":"UBT"},{"ion":"K","day":229,"val":38.4,"site":"UBT"},{"ion":"K","day":233,"val":33.1,"site":"UBT"},{"ion":"K","day":236,"val":32,"site":"UBT"},{"ion":"K","day":240,"val":30.9,"site":"UBT"},{"ion":"K","day":243,"val":33,"site":"UBT"},{"ion":"K","day":246,"val":33.4,"site":"UBT"},{"ion":"K","day":249,"val":32.5,"site":"UBT"},{"ion":"K","day":253,"val":32,"site":"UBT"},{"ion":"K","day":256,"val":33,"site":"UBT"},{"ion":"K","day":258,"val":31.5,"site":"UBT"},{"ion":"K","day":261,"val":33.1,"site":"UBT"},{"ion":"K","day":264,"val":32.6,"site":"UBT"},{"ion":"K","day":268,"val":32.7,"site":"UBT"},{"ion":"K","day":271,"val":33.5,"site":"UBT"},{"ion":"K","day":274,"val":32.4,"site":"UBT"},{"ion":"K","day":277,"val":33,"site":"UBT"},{"ion":"K","day":280,"val":32.7,"site":"UBT"},{"ion":"K","day":283,"val":33,"site":"UBT"},{"ion":"K","day":287,"val":33.4,"site":"UBT"},{"ion":"K","day":290,"val":33,"site":"UBT"},{"ion":"K","day":293,"val":33.8,"site":"UBT"},{"ion":"K","day":296,"val":33.2,"site":"UBT"},{"ion":"K","day":300,"val":33.4,"site":"UBT"},{"ion":"K","day":303,"val":34,"site":"UBT"},{"ion":"K","day":306,"val":33.8,"site":"UBT"},{"ion":"K","day":309,"val":33.5,"site":"UBT"},{"ion":"K","day":312,"val":33.1,"site":"UBT"},{"ion":"K","day":315,"val":40.2,"site":"UBT"},{"ion":"K","day":318,"val":41,"site":"UBT"},{"ion":"K","day":321,"val":40.9,"site":"UBT"},{"ion":"K","day":325,"val":37,"site":"UBT"},
{"ion":"F","day":4,"val":0.88,"site":"UBT"},{"ion":"F","day":6,"val":1.88,"site":"UBT"},{"ion":"F","day":8,"val":0.9,"site":"UBT"},{"ion":"F","day":10,"val":0.88,"site":"UBT"},{"ion":"F","day":13,"val":1.02,"site":"UBT"},{"ion":"F","day":16,"val":0.92,"site":"UBT"},{"ion":"F","day":19,"val":0.94,"site":"UBT"},{"ion":"F","day":21,"val":1.4,"site":"UBT"},{"ion":"F","day":23,"val":0.9,"site":"UBT"},{"ion":"F","day":25,"val":0.88,"site":"UBT"},{"ion":"F","day":27,"val":0.95,"site":"UBT"},{"ion":"F","day":29,"val":0.99,"site":"UBT"},{"ion":"F","day":31,"val":0.93,"site":"UBT"},{"ion":"F","day":34,"val":1.06,"site":"UBT"},{"ion":"F","day":36,"val":1.02,"site":"UBT"},{"ion":"F","day":38,"val":0.94,"site":"UBT"},{"ion":"F","day":41,"val":0.9,"site":"UBT"},{"ion":"F","day":61,"val":1.0,"site":"UBT"},{"ion":"F","day":66,"val":1.05,"site":"UBT"},{"ion":"F","day":70,"val":1.09,"site":"UBT"},{"ion":"F","day":76,"val":0.78,"site":"UBT"},{"ion":"F","day":79,"val":0.76,"site":"UBT"},{"ion":"F","day":83,"val":0.84,"site":"UBT"},{"ion":"F","day":87,"val":0.8,"site":"UBT"},{"ion":"F","day":91,"val":0.78,"site":"UBT"},{"ion":"F","day":95,"val":0.82,"site":"UBT"},{"ion":"F","day":98,"val":0.84,"site":"UBT"},{"ion":"F","day":101,"val":0.8,"site":"UBT"},{"ion":"F","day":104,"val":0.77,"site":"UBT"},{"ion":"F","day":108,"val":0.85,"site":"UBT"},{"ion":"F","day":111,"val":0.9,"site":"UBT"},{"ion":"F","day":115,"val":0.86,"site":"UBT"},{"ion":"F","day":118,"val":0.85,"site":"UBT"},{"ion":"F","day":121,"val":0.845,"site":"UBT"},{"ion":"F","day":125,"val":0.87,"site":"UBT"},{"ion":"F","day":128,"val":0.89,"site":"UBT"},{"ion":"F","day":131,"val":0.84,"site":"UBT"},{"ion":"F","day":135,"val":0.845,"site":"UBT"},{"ion":"F","day":138,"val":0.83,"site":"UBT"},{"ion":"F","day":142,"val":0.8,"site":"UBT"},{"ion":"F","day":145,"val":0.84,"site":"UBT"},{"ion":"F","day":149,"val":0.83,"site":"UBT"},{"ion":"F","day":152,"val":0.88,"site":"UBT"},{"ion":"F","day":156,"val":0.92,"site":"UBT"},{"ion":"F","day":158,"val":0.96,"site":"UBT"},{"ion":"F","day":160,"val":1.01,"site":"UBT"},{"ion":"F","day":164,"val":1.03,"site":"UBT"},{"ion":"F","day":168,"val":1.04,"site":"UBT"},{"ion":"F","day":171,"val":1.02,"site":"UBT"},{"ion":"F","day":174,"val":0.8,"site":"UBT"},{"ion":"F","day":177,"val":0.84,"site":"UBT"},{"ion":"F","day":179,"val":0.87,"site":"UBT"},{"ion":"F","day":183,"val":1.03,"site":"UBT"},{"ion":"F","day":186,"val":1.04,"site":"UBT"},{"ion":"F","day":189,"val":1.04,"site":"UBT"},{"ion":"F","day":193,"val":1.03,"site":"UBT"},{"ion":"F","day":196,"val":0.92,"site":"UBT"},{"ion":"F","day":198,"val":1.22,"site":"UBT"},{"ion":"F","day":202,"val":1.04,"site":"UBT"},{"ion":"F","day":205,"val":1.03,"site":"UBT"},{"ion":"F","day":208,"val":1.03,"site":"UBT"},{"ion":"F","day":212,"val":1.22,"site":"UBT"},{"ion":"F","day":214,"val":1.04,"site":"UBT"},{"ion":"F","day":216,"val":1.04,"site":"UBT"},{"ion":"F","day":219,"val":1.03,"site":"UBT"},{"ion":"F","day":223,"val":0.92,"site":"UBT"},{"ion":"F","day":226,"val":1.03,"site":"UBT"},{"ion":"F","day":230,"val":1.04,"site":"UBT"},{"ion":"F","day":238,"val":1.22,"site":"UBT"},{"ion":"F","day":242,"val":1.32,"site":"UBT"},{"ion":"F","day":245,"val":1.27,"site":"UBT"},{"ion":"F","day":249,"val":1.23,"site":"UBT"},{"ion":"F","day":252,"val":1.25,"site":"UBT"},{"ion":"F","day":256,"val":1.24,"site":"UBT"},{"ion":"F","day":259,"val":1.2,"site":"UBT"},{"ion":"F","day":263,"val":1.2,"site":"UBT"},{"ion":"F","day":266,"val":1.17,"site":"UBT"},{"ion":"F","day":270,"val":1.22,"site":"UBT"},{"ion":"F","day":273,"val":1.15,"site":"UBT"},{"ion":"F","day":275,"val":1.13,"site":"UBT"},{"ion":"F","day":279,"val":1.08,"site":"UBT"},{"ion":"F","day":282,"val":1.04,"site":"UBT"},{"ion":"F","day":285,"val":1.1,"site":"UBT"},{"ion":"F","day":289,"val":1.13,"site":"UBT"},{"ion":"F","day":292,"val":1.08,"site":"UBT"},{"ion":"F","day":296,"val":1.04,"site":"UBT"},{"ion":"F","day":299,"val":1.16,"site":"UBT"},{"ion":"F","day":301,"val":1.22,"site":"UBT"},{"ion":"F","day":305,"val":1.15,"site":"UBT"},{"ion":"F","day":308,"val":1.13,"site":"UBT"},{"ion":"F","day":312,"val":1.1,"site":"UBT"},{"ion":"F","day":315,"val":1.14,"site":"UBT"},{"ion":"F","day":319,"val":1.05,"site":"UBT"},{"ion":"F","day":322,"val":1.0,"site":"UBT"},{"ion":"F","day":324,"val":1.02,"site":"UBT"},
{"ion":"SiO2","day":1,"val":54,"site":"UBT"},{"ion":"SiO2","day":4,"val":55,"site":"UBT"},{"ion":"SiO2","day":9,"val":55.5,"site":"UBT"},{"ion":"SiO2","day":12,"val":55,"site":"UBT"},{"ion":"SiO2","day":16,"val":55.1,"site":"UBT"},{"ion":"SiO2","day":16,"val":51.3,"site":"UBT"},{"ion":"SiO2","day":20,"val":55.3,"site":"UBT"},{"ion":"SiO2","day":22,"val":53,"site":"UBT"},{"ion":"SiO2","day":25,"val":52.5,"site":"UBT"},{"ion":"SiO2","day":28,"val":51.5,"site":"UBT"},{"ion":"SiO2","day":32,"val":52.5,"site":"UBT"},{"ion":"SiO2","day":34,"val":53.5,"site":"UBT"},{"ion":"SiO2","day":37,"val":48.6,"site":"UBT"},{"ion":"SiO2","day":39,"val":53,"site":"UBT"},{"ion":"SiO2","day":60,"val":50.4,"site":"UBT"},{"ion":"SiO2","day":64,"val":50,"site":"UBT"},{"ion":"SiO2","day":68,"val":50.4,"site":"UBT"},{"ion":"SiO2","day":72,"val":48,"site":"UBT"},{"ion":"SiO2","day":76,"val":52,"site":"UBT"},{"ion":"SiO2","day":80,"val":53.4,"site":"UBT"},{"ion":"SiO2","day":84,"val":52,"site":"UBT"},{"ion":"SiO2","day":87,"val":51.6,"site":"UBT"},{"ion":"SiO2","day":91,"val":50,"site":"UBT"},{"ion":"SiO2","day":94,"val":50.2,"site":"UBT"},{"ion":"SiO2","day":98,"val":52.5,"site":"UBT"},{"ion":"SiO2","day":101,"val":53.6,"site":"UBT"},{"ion":"SiO2","day":103,"val":49.3,"site":"UBT"},{"ion":"SiO2","day":106,"val":51,"site":"UBT"},{"ion":"SiO2","day":108,"val":51.6,"site":"UBT"},{"ion":"SiO2","day":111,"val":48,"site":"UBT"},{"ion":"SiO2","day":114,"val":50.5,"site":"UBT"},{"ion":"SiO2","day":117,"val":50.2,"site":"UBT"},{"ion":"SiO2","day":121,"val":51,"site":"UBT"},{"ion":"SiO2","day":125,"val":49.6,"site":"UBT"},{"ion":"SiO2","day":129,"val":53.2,"site":"UBT"},{"ion":"SiO2","day":132,"val":53,"site":"UBT"},{"ion":"SiO2","day":136,"val":52.6,"site":"UBT"},{"ion":"SiO2","day":140,"val":52.5,"site":"UBT"},{"ion":"SiO2","day":143,"val":52.3,"site":"UBT"},{"ion":"SiO2","day":146,"val":51.5,"site":"UBT"},{"ion":"SiO2","day":148,"val":50.8,"site":"UBT"},{"ion":"SiO2","day":151,"val":49.5,"site":"UBT"},{"ion":"SiO2","day":153,"val":49.3,"site":"UBT"},{"ion":"SiO2","day":158,"val":54.3,"site":"UBT"},{"ion":"SiO2","day":162,"val":54.8,"site":"UBT"},{"ion":"SiO2","day":165,"val":55,"site":"UBT"},{"ion":"SiO2","day":168,"val":54.5,"site":"UBT"},{"ion":"SiO2","day":172,"val":54.1,"site":"UBT"},{"ion":"SiO2","day":176,"val":53.5,"site":"UBT"},{"ion":"SiO2","day":179,"val":52.9,"site":"UBT"},{"ion":"SiO2","day":184,"val":59.3,"site":"UBT"},{"ion":"SiO2","day":187,"val":60.5,"site":"UBT"},{"ion":"SiO2","day":190,"val":61.1,"site":"UBT"},{"ion":"SiO2","day":192,"val":60,"site":"UBT"},{"ion":"SiO2","day":195,"val":59.6,"site":"UBT"},{"ion":"SiO2","day":198,"val":60,"site":"UBT"},{"ion":"SiO2","day":200,"val":60.8,"site":"UBT"},{"ion":"SiO2","day":202,"val":59.5,"site":"UBT"},{"ion":"SiO2","day":204,"val":59.3,"site":"UBT"},{"ion":"SiO2","day":208,"val":58.5,"site":"UBT"},{"ion":"SiO2","day":212,"val":63.2,"site":"UBT"},{"ion":"SiO2","day":215,"val":64,"site":"UBT"},{"ion":"SiO2","day":218,"val":64.7,"site":"UBT"},{"ion":"SiO2","day":221,"val":58.1,"site":"UBT"},{"ion":"SiO2","day":224,"val":61.5,"site":"UBT"},{"ion":"SiO2","day":226,"val":60.8,"site":"UBT"},{"ion":"SiO2","day":229,"val":59,"site":"UBT"},{"ion":"SiO2","day":231,"val":58.8,"site":"UBT"},{"ion":"SiO2","day":235,"val":58.5,"site":"UBT"},{"ion":"SiO2","day":238,"val":58.1,"site":"UBT"},{"ion":"SiO2","day":241,"val":58.3,"site":"UBT"},{"ion":"SiO2","day":245,"val":57.8,"site":"UBT"},{"ion":"SiO2","day":248,"val":58,"site":"UBT"},{"ion":"SiO2","day":252,"val":57.5,"site":"UBT"},{"ion":"SiO2","day":255,"val":57,"site":"UBT"},{"ion":"SiO2","day":259,"val":56.9,"site":"UBT"},{"ion":"SiO2","day":262,"val":56.5,"site":"UBT"},{"ion":"SiO2","day":266,"val":56.6,"site":"UBT"},{"ion":"SiO2","day":269,"val":57,"site":"UBT"},{"ion":"SiO2","day":273,"val":57.2,"site":"UBT"},{"ion":"SiO2","day":276,"val":56.5,"site":"UBT"},{"ion":"SiO2","day":280,"val":56.9,"site":"UBT"},{"ion":"SiO2","day":283,"val":57.5,"site":"UBT"},{"ion":"SiO2","day":287,"val":57.5,"site":"UBT"},{"ion":"SiO2","day":290,"val":57,"site":"UBT"},{"ion":"SiO2","day":294,"val":58.1,"site":"UBT"},{"ion":"SiO2","day":297,"val":57.5,"site":"UBT"},{"ion":"SiO2","day":302,"val":57.2,"site":"UBT"},{"ion":"SiO2","day":306,"val":56.6,"site":"UBT"},{"ion":"SiO2","day":314,"val":53.6,"site":"UBT"},{"ion":"SiO2","day":318,"val":57,"site":"UBT"},{"ion":"SiO2","day":320,"val":57.8,"site":"UBT"},{"ion":"SiO2","day":323,"val":56,"site":"UBT"},{"ion":"SiO2","day":325,"val":55.7,"site":"UBT"},{"ion":"SiO2","day":328,"val":52.2,"site":"UBT"},
{"ion":"Li","day":0,"val":0.275,"site":"UBT"},{"ion":"Li","day":2,"val":0.279,"site":"UBT"},{"ion":"Li","day":4,"val":0.283,"site":"UBT"},{"ion":"Li","day":7,"val":0.277,"site":"UBT"},{"ion":"Li","day":9,"val":0.272,"site":"UBT"},{"ion":"Li","day":11,"val":0.27,"site":"UBT"},{"ion":"Li","day":13,"val":0.266,"site":"UBT"},{"ion":"Li","day":15,"val":0.278,"site":"UBT"},{"ion":"Li","day":18,"val":0.276,"site":"UBT"},{"ion":"Li","day":21,"val":0.283,"site":"UBT"},{"ion":"Li","day":24,"val":0.272,"site":"UBT"},{"ion":"Li","day":26,"val":0.275,"site":"UBT"},{"ion":"Li","day":28,"val":0.27,"site":"UBT"},{"ion":"Li","day":30,"val":0.281,"site":"UBT"},{"ion":"Li","day":32,"val":0.268,"site":"UBT"},{"ion":"Li","day":34,"val":0.266,"site":"UBT"},{"ion":"Li","day":36,"val":0.26,"site":"UBT"},{"ion":"Li","day":38,"val":0.248,"site":"UBT"},{"ion":"Li","day":40,"val":0.257,"site":"UBT"},{"ion":"Li","day":60,"val":0.251,"site":"UBT"},{"ion":"Li","day":63,"val":0.253,"site":"UBT"},{"ion":"Li","day":66,"val":0.251,"site":"UBT"},{"ion":"Li","day":70,"val":0.292,"site":"UBT"},{"ion":"Li","day":72,"val":0.325,"site":"UBT"},{"ion":"Li","day":75,"val":0.335,"site":"UBT"},{"ion":"Li","day":77,"val":0.349,"site":"UBT"},{"ion":"Li","day":79,"val":0.32,"site":"UBT"},{"ion":"Li","day":81,"val":0.319,"site":"UBT"},{"ion":"Li","day":83,"val":0.328,"site":"UBT"},{"ion":"Li","day":85,"val":0.331,"site":"UBT"},{"ion":"Li","day":88,"val":0.32,"site":"UBT"},{"ion":"Li","day":91,"val":0.325,"site":"UBT"},{"ion":"Li","day":94,"val":0.263,"site":"UBT"},{"ion":"Li","day":96,"val":0.331,"site":"UBT"},{"ion":"Li","day":99,"val":0.335,"site":"UBT"},{"ion":"Li","day":102,"val":0.322,"site":"UBT"},{"ion":"Li","day":105,"val":0.298,"site":"UBT"},{"ion":"Li","day":107,"val":0.335,"site":"UBT"},{"ion":"Li","day":109,"val":0.355,"site":"UBT"},{"ion":"Li","day":111,"val":0.34,"site":"UBT"},{"ion":"Li","day":113,"val":0.325,"site":"UBT"},{"ion":"Li","day":115,"val":0.34,"site":"UBT"},{"ion":"Li","day":117,"val":0.358,"site":"UBT"},{"ion":"Li","day":120,"val":0.35,"site":"UBT"},{"ion":"Li","day":122,"val":0.364,"site":"UBT"},{"ion":"Li","day":124,"val":0.345,"site":"UBT"},{"ion":"Li","day":126,"val":0.298,"site":"UBT"},{"ion":"Li","day":128,"val":0.343,"site":"UBT"},{"ion":"Li","day":131,"val":0.34,"site":"UBT"},{"ion":"Li","day":134,"val":0.301,"site":"UBT"},{"ion":"Li","day":136,"val":0.33,"site":"UBT"},{"ion":"Li","day":139,"val":0.337,"site":"UBT"},{"ion":"Li","day":142,"val":0.34,"site":"UBT"},{"ion":"Li","day":145,"val":0.331,"site":"UBT"},{"ion":"Li","day":147,"val":0.345,"site":"UBT"},{"ion":"Li","day":149,"val":0.352,"site":"UBT"},{"ion":"Li","day":152,"val":0.345,"site":"UBT"},{"ion":"Li","day":154,"val":0.358,"site":"UBT"},{"ion":"Li","day":156,"val":0.342,"site":"UBT"},{"ion":"Li","day":158,"val":0.34,"site":"UBT"},{"ion":"Li","day":160,"val":0.33,"site":"UBT"},{"ion":"Li","day":162,"val":0.331,"site":"UBT"},{"ion":"Li","day":165,"val":0.34,"site":"UBT"},{"ion":"Li","day":167,"val":0.346,"site":"UBT"},{"ion":"Li","day":169,"val":0.35,"site":"UBT"},{"ion":"Li","day":171,"val":0.352,"site":"UBT"},{"ion":"Li","day":174,"val":0.36,"site":"UBT"},{"ion":"Li","day":177,"val":0.367,"site":"UBT"},{"ion":"Li","day":179,"val":0.281,"site":"UBT"},{"ion":"Li","day":182,"val":0.275,"site":"UBT"},{"ion":"Li","day":184,"val":0.269,"site":"UBT"},{"ion":"Li","day":186,"val":0.28,"site":"UBT"},{"ion":"Li","day":188,"val":0.283,"site":"UBT"},{"ion":"Li","day":191,"val":0.285,"site":"UBT"},{"ion":"Li","day":194,"val":0.289,"site":"UBT"},{"ion":"Li","day":196,"val":0.287,"site":"UBT"},{"ion":"Li","day":199,"val":0.295,"site":"UBT"},{"ion":"Li","day":201,"val":0.29,"site":"UBT"},{"ion":"Li","day":203,"val":0.286,"site":"UBT"},{"ion":"Li","day":205,"val":0.304,"site":"UBT"},{"ion":"Li","day":208,"val":0.298,"site":"UBT"},{"ion":"Li","day":211,"val":0.242,"site":"UBT"},{"ion":"Li","day":213,"val":0.301,"site":"UBT"},{"ion":"Li","day":216,"val":0.303,"site":"UBT"},{"ion":"Li","day":218,"val":0.3,"site":"UBT"},{"ion":"Li","day":220,"val":0.304,"site":"UBT"},{"ion":"Li","day":223,"val":0.3,"site":"UBT"},{"ion":"Li","day":226,"val":0.298,"site":"UBT"},{"ion":"Li","day":230,"val":0.265,"site":"UBT"},{"ion":"Li","day":233,"val":0.254,"site":"UBT"},{"ion":"Li","day":235,"val":0.245,"site":"UBT"},{"ion":"Li","day":237,"val":0.23,"site":"UBT"},{"ion":"Li","day":239,"val":0.24,"site":"UBT"},{"ion":"Li","day":241,"val":0.242,"site":"UBT"},{"ion":"Li","day":244,"val":0.24,"site":"UBT"},{"ion":"Li","day":248,"val":0.239,"site":"UBT"},{"ion":"Li","day":251,"val":0.24,"site":"UBT"},{"ion":"Li","day":254,"val":0.242,"site":"UBT"},{"ion":"Li","day":257,"val":0.245,"site":"UBT"},{"ion":"Li","day":260,"val":0.248,"site":"UBT"},{"ion":"Li","day":263,"val":0.26,"site":"UBT"},{"ion":"Li","day":265,"val":0.266,"site":"UBT"},{"ion":"Li","day":268,"val":0.262,"site":"UBT"},{"ion":"Li","day":271,"val":0.263,"site":"UBT"},{"ion":"Li","day":274,"val":0.265,"site":"UBT"},{"ion":"Li","day":277,"val":0.269,"site":"UBT"},{"ion":"Li","day":280,"val":0.265,"site":"UBT"},{"ion":"Li","day":284,"val":0.266,"site":"UBT"},{"ion":"Li","day":287,"val":0.262,"site":"UBT"},{"ion":"Li","day":290,"val":0.263,"site":"UBT"},{"ion":"Li","day":293,"val":0.26,"site":"UBT"},{"ion":"Li","day":297,"val":0.257,"site":"UBT"},{"ion":"Li","day":300,"val":0.26,"site":"UBT"},{"ion":"Li","day":303,"val":0.257,"site":"UBT"},{"ion":"Li","day":306,"val":0.262,"site":"UBT"},{"ion":"Li","day":310,"val":0.26,"site":"UBT"},{"ion":"Li","day":313,"val":0.263,"site":"UBT"},{"ion":"Li","day":316,"val":0.266,"site":"UBT"},{"ion":"Li","day":318,"val":0.25,"site":"UBT"},{"ion":"Li","day":320,"val":0.236,"site":"UBT"},{"ion":"Li","day":323,"val":0.24,"site":"UBT"},{"ion":"Li","day":327,"val":0.221,"site":"UBT"},
{"ion":"As","day":0,"val":0.0216,"site":"UBT"},{"ion":"As","day":2,"val":0.138,"site":"UBT"},{"ion":"As","day":4,"val":0.14,"site":"UBT"},{"ion":"As","day":7,"val":0.133,"site":"UBT"},{"ion":"As","day":9,"val":0.131,"site":"UBT"},{"ion":"As","day":11,"val":0.128,"site":"UBT"},{"ion":"As","day":13,"val":0.133,"site":"UBT"},{"ion":"As","day":15,"val":0.127,"site":"UBT"},{"ion":"As","day":17,"val":0.125,"site":"UBT"},{"ion":"As","day":19,"val":0.115,"site":"UBT"},{"ion":"As","day":21,"val":0.108,"site":"UBT"},{"ion":"As","day":13,"val":0.0,"site":"UBT"},{"ion":"As","day":17,"val":0.001,"site":"UBT"},{"ion":"As","day":21,"val":0.002,"site":"UBT"},{"ion":"As","day":24,"val":0.004,"site":"UBT"},{"ion":"As","day":28,"val":0.005,"site":"UBT"},{"ion":"As","day":32,"val":0.008,"site":"UBT"},{"ion":"As","day":34,"val":0.152,"site":"UBT"},{"ion":"As","day":36,"val":0.12,"site":"UBT"},{"ion":"As","day":38,"val":0.122,"site":"UBT"},{"ion":"As","day":57,"val":0.127,"site":"UBT"},{"ion":"As","day":61,"val":0.128,"site":"UBT"},{"ion":"As","day":64,"val":0.13,"site":"UBT"},{"ion":"As","day":67,"val":0.135,"site":"UBT"},{"ion":"As","day":70,"val":0.151,"site":"UBT"},{"ion":"As","day":72,"val":0.155,"site":"UBT"},{"ion":"As","day":74,"val":0.162,"site":"UBT"},{"ion":"As","day":77,"val":0.165,"site":"UBT"},{"ion":"As","day":80,"val":0.149,"site":"UBT"},{"ion":"As","day":83,"val":0.165,"site":"UBT"},{"ion":"As","day":87,"val":0.171,"site":"UBT"},{"ion":"As","day":89,"val":0.168,"site":"UBT"},{"ion":"As","day":91,"val":0.16,"site":"UBT"},{"ion":"As","day":85,"val":0.008,"site":"UBT"},{"ion":"As","day":88,"val":0.005,"site":"UBT"},{"ion":"As","day":91,"val":0.004,"site":"UBT"},{"ion":"As","day":95,"val":0.004,"site":"UBT"},{"ion":"As","day":99,"val":0.005,"site":"UBT"},{"ion":"As","day":102,"val":0.008,"site":"UBT"},{"ion":"As","day":106,"val":0.01,"site":"UBT"},{"ion":"As","day":108,"val":0.179,"site":"UBT"},{"ion":"As","day":111,"val":0.178,"site":"UBT"},{"ion":"As","day":114,"val":0.182,"site":"UBT"},{"ion":"As","day":117,"val":0.178,"site":"UBT"},{"ion":"As","day":121,"val":0.176,"site":"UBT"},{"ion":"As","day":125,"val":0.18,"site":"UBT"},{"ion":"As","day":129,"val":0.191,"site":"UBT"},{"ion":"As","day":132,"val":0.19,"site":"UBT"},{"ion":"As","day":136,"val":0.18,"site":"UBT"},{"ion":"As","day":140,"val":0.175,"site":"UBT"},{"ion":"As","day":144,"val":0.18,"site":"UBT"},{"ion":"As","day":149,"val":0.185,"site":"UBT"},{"ion":"As","day":152,"val":0.178,"site":"UBT"},{"ion":"As","day":156,"val":0.168,"site":"UBT"},{"ion":"As","day":160,"val":0.172,"site":"UBT"},{"ion":"As","day":163,"val":0.174,"site":"UBT"},{"ion":"As","day":167,"val":0.176,"site":"UBT"},{"ion":"As","day":172,"val":0.179,"site":"UBT"},{"ion":"As","day":175,"val":0.17,"site":"UBT"},{"ion":"As","day":179,"val":0.161,"site":"UBT"},{"ion":"As","day":183,"val":0.165,"site":"UBT"},{"ion":"As","day":188,"val":0.168,"site":"UBT"},{"ion":"As","day":192,"val":0.17,"site":"UBT"},{"ion":"As","day":196,"val":0.171,"site":"UBT"},{"ion":"As","day":200,"val":0.18,"site":"UBT"},{"ion":"As","day":202,"val":0.194,"site":"UBT"},{"ion":"As","day":205,"val":0.183,"site":"UBT"},{"ion":"As","day":208,"val":0.185,"site":"UBT"},{"ion":"As","day":212,"val":0.187,"site":"UBT"},{"ion":"As","day":216,"val":0.19,"site":"UBT"},{"ion":"As","day":218,"val":0.184,"site":"UBT"},{"ion":"As","day":221,"val":0.186,"site":"UBT"},{"ion":"As","day":224,"val":0.18,"site":"UBT"},{"ion":"As","day":228,"val":0.176,"site":"UBT"},{"ion":"As","day":205,"val":0.072,"site":"UBT"},{"ion":"As","day":206,"val":0.062,"site":"UBT"},{"ion":"As","day":212,"val":0.142,"site":"UBT"},{"ion":"As","day":233,"val":0.141,"site":"UBT"},{"ion":"As","day":236,"val":0.14,"site":"UBT"},{"ion":"As","day":240,"val":0.142,"site":"UBT"},{"ion":"As","day":244,"val":0.14,"site":"UBT"},{"ion":"As","day":247,"val":0.138,"site":"UBT"},{"ion":"As","day":250,"val":0.137,"site":"UBT"},{"ion":"As","day":252,"val":0.143,"site":"UBT"},{"ion":"As","day":254,"val":0.133,"site":"UBT"},{"ion":"As","day":256,"val":0.13,"site":"UBT"},{"ion":"As","day":259,"val":0.135,"site":"UBT"},{"ion":"As","day":263,"val":0.14,"site":"UBT"},{"ion":"As","day":266,"val":0.138,"site":"UBT"},{"ion":"As","day":270,"val":0.141,"site":"UBT"},{"ion":"As","day":273,"val":0.14,"site":"UBT"},{"ion":"As","day":277,"val":0.142,"site":"UBT"},{"ion":"As","day":280,"val":0.145,"site":"UBT"},{"ion":"As","day":283,"val":0.14,"site":"UBT"},{"ion":"As","day":287,"val":0.141,"site":"UBT"},{"ion":"As","day":290,"val":0.138,"site":"UBT"},{"ion":"As","day":294,"val":0.137,"site":"UBT"},{"ion":"As","day":297,"val":0.14,"site":"UBT"},{"ion":"As","day":301,"val":0.142,"site":"UBT"},{"ion":"As","day":304,"val":0.14,"site":"UBT"},{"ion":"As","day":308,"val":0.146,"site":"UBT"},{"ion":"As","day":311,"val":0.14,"site":"UBT"},{"ion":"As","day":315,"val":0.141,"site":"UBT"},{"ion":"As","day":319,"val":0.137,"site":"UBT"},{"ion":"As","day":322,"val":0.093,"site":"UBT"},
{"ion":"Fe","day":1,"val":3.16,"site":"UBT"},{"ion":"Fe","day":4,"val":3.2,"site":"UBT"},{"ion":"Fe","day":9,"val":3.19,"site":"UBT"},{"ion":"Fe","day":12,"val":3.15,"site":"UBT"},{"ion":"Fe","day":16,"val":3.16,"site":"UBT"},{"ion":"Fe","day":18,"val":2.83,"site":"UBT"},{"ion":"Fe","day":22,"val":2.85,"site":"UBT"},{"ion":"Fe","day":25,"val":2.82,"site":"UBT"},{"ion":"Fe","day":30,"val":2.83,"site":"UBT"},{"ion":"Fe","day":33,"val":2.78,"site":"UBT"},{"ion":"Fe","day":35,"val":2.74,"site":"UBT"},{"ion":"Fe","day":37,"val":2.57,"site":"UBT"},{"ion":"Fe","day":35,"val":2.3,"site":"UBT"},{"ion":"Fe","day":1,"val":0.17,"site":"UBT"},{"ion":"Fe","day":5,"val":0.15,"site":"UBT"},{"ion":"Fe","day":13,"val":0.14,"site":"UBT"},{"ion":"Fe","day":18,"val":0.17,"site":"UBT"},{"ion":"Fe","day":22,"val":0.2,"site":"UBT"},{"ion":"Fe","day":25,"val":0.2,"site":"UBT"},{"ion":"Fe","day":29,"val":0.22,"site":"UBT"},{"ion":"Fe","day":32,"val":0.26,"site":"UBT"},{"ion":"Fe","day":56,"val":2.36,"site":"UBT"},{"ion":"Fe","day":60,"val":2.38,"site":"UBT"},{"ion":"Fe","day":63,"val":2.39,"site":"UBT"},{"ion":"Fe","day":66,"val":2.42,"site":"UBT"},{"ion":"Fe","day":70,"val":2.15,"site":"UBT"},{"ion":"Fe","day":72,"val":2.54,"site":"UBT"},{"ion":"Fe","day":76,"val":2.5,"site":"UBT"},{"ion":"Fe","day":80,"val":2.48,"site":"UBT"},{"ion":"Fe","day":84,"val":2.55,"site":"UBT"},{"ion":"Fe","day":87,"val":2.54,"site":"UBT"},{"ion":"Fe","day":91,"val":2.6,"site":"UBT"},{"ion":"Fe","day":94,"val":2.66,"site":"UBT"},{"ion":"Fe","day":84,"val":0.05,"site":"UBT"},{"ion":"Fe","day":87,"val":0.08,"site":"UBT"},{"ion":"Fe","day":91,"val":0.11,"site":"UBT"},{"ion":"Fe","day":95,"val":0.1,"site":"UBT"},{"ion":"Fe","day":98,"val":0.05,"site":"UBT"},{"ion":"Fe","day":101,"val":0.02,"site":"UBT"},{"ion":"Fe","day":105,"val":2.65,"site":"UBT"},{"ion":"Fe","day":108,"val":2.68,"site":"UBT"},{"ion":"Fe","day":112,"val":2.7,"site":"UBT"},{"ion":"Fe","day":115,"val":2.66,"site":"UBT"},{"ion":"Fe","day":119,"val":2.68,"site":"UBT"},{"ion":"Fe","day":122,"val":2.72,"site":"UBT"},{"ion":"Fe","day":126,"val":2.75,"site":"UBT"},{"ion":"Fe","day":129,"val":2.8,"site":"UBT"},{"ion":"Fe","day":132,"val":2.86,"site":"UBT"},{"ion":"Fe","day":134,"val":2.92,"site":"UBT"},{"ion":"Fe","day":137,"val":2.8,"site":"UBT"},{"ion":"Fe","day":139,"val":2.77,"site":"UBT"},{"ion":"Fe","day":143,"val":2.75,"site":"UBT"},{"ion":"Fe","day":146,"val":2.72,"site":"UBT"},{"ion":"Fe","day":150,"val":2.7,"site":"UBT"},{"ion":"Fe","day":153,"val":2.69,"site":"UBT"},{"ion":"Fe","day":156,"val":2.68,"site":"UBT"},{"ion":"Fe","day":159,"val":2.66,"site":"UBT"},{"ion":"Fe","day":163,"val":2.7,"site":"UBT"},{"ion":"Fe","day":167,"val":2.83,"site":"UBT"},{"ion":"Fe","day":170,"val":2.7,"site":"UBT"},{"ion":"Fe","day":174,"val":2.63,"site":"UBT"},{"ion":"Fe","day":178,"val":2.62,"site":"UBT"},{"ion":"Fe","day":181,"val":2.6,"site":"UBT"},{"ion":"Fe","day":184,"val":3.01,"site":"UBT"},{"ion":"Fe","day":187,"val":3.08,"site":"UBT"},{"ion":"Fe","day":190,"val":3.13,"site":"UBT"},{"ion":"Fe","day":193,"val":3.1,"site":"UBT"},{"ion":"Fe","day":196,"val":3.08,"site":"UBT"},{"ion":"Fe","day":198,"val":3.04,"site":"UBT"},{"ion":"Fe","day":201,"val":3.05,"site":"UBT"},{"ion":"Fe","day":204,"val":3.01,"site":"UBT"},{"ion":"Fe","day":207,"val":3.0,"site":"UBT"},{"ion":"Fe","day":210,"val":3.34,"site":"UBT"},{"ion":"Fe","day":214,"val":2.36,"site":"UBT"},{"ion":"Fe","day":217,"val":3.37,"site":"UBT"},{"ion":"Fe","day":220,"val":3.33,"site":"UBT"},{"ion":"Fe","day":224,"val":3.22,"site":"UBT"},{"ion":"Fe","day":226,"val":3.15,"site":"UBT"},{"ion":"Fe","day":228,"val":3.04,"site":"UBT"},{"ion":"Fe","day":232,"val":2.3,"site":"UBT"},{"ion":"Fe","day":235,"val":2.27,"site":"UBT"},{"ion":"Fe","day":239,"val":2.32,"site":"UBT"},{"ion":"Fe","day":243,"val":2.36,"site":"UBT"},{"ion":"Fe","day":246,"val":2.33,"site":"UBT"},{"ion":"Fe","day":249,"val":2.33,"site":"UBT"},{"ion":"Fe","day":253,"val":2.36,"site":"UBT"},{"ion":"Fe","day":257,"val":2.39,"site":"UBT"},{"ion":"Fe","day":260,"val":2.35,"site":"UBT"},{"ion":"Fe","day":263,"val":2.33,"site":"UBT"},{"ion":"Fe","day":267,"val":2.37,"site":"UBT"},{"ion":"Fe","day":271,"val":2.39,"site":"UBT"},{"ion":"Fe","day":274,"val":2.42,"site":"UBT"},{"ion":"Fe","day":278,"val":2.45,"site":"UBT"},{"ion":"Fe","day":281,"val":2.5,"site":"UBT"},{"ion":"Fe","day":285,"val":2.6,"site":"UBT"},{"ion":"Fe","day":288,"val":2.5,"site":"UBT"},{"ion":"Fe","day":290,"val":2.39,"site":"UBT"},{"ion":"Fe","day":293,"val":2.42,"site":"UBT"},{"ion":"Fe","day":297,"val":2.48,"site":"UBT"},{"ion":"Fe","day":300,"val":2.43,"site":"UBT"},{"ion":"Fe","day":304,"val":2.39,"site":"UBT"},{"ion":"Fe","day":308,"val":2.27,"site":"UBT"},{"ion":"Fe","day":316,"val":2.77,"site":"UBT"},{"ion":"Fe","day":318,"val":2.98,"site":"UBT"},{"ion":"Fe","day":320,"val":2.8,"site":"UBT"},{"ion":"Fe","day":323,"val":2.74,"site":"UBT"},{"ion":"Fe","day":325,"val":2.15,"site":"UBT"}
]
},
"columns":3,
"spacing":{"row":26,"column":101},
"bounds":"flush",
"concat":[
 {"width":285,"height":281,"resolve":{"axis":{"x":"independent","y":"independent"}},"layer":[
  {"data":{"name":"ref"},"transform":[{"filter":"datum.ion=='Cl'"}],"mark":{"type":"rule","color":"#a8a8a8","strokeDash":[8,6],"strokeWidth":1},"encoding":{"x":{"field":"cut","type":"quantitative","scale":{"domain":[0,365],"nice":false},"axis":null}}},
  {"data":{"name":"ref"},"transform":[{"filter":"datum.ion=='Cl'"}],"mark":{"type":"rule","color":"#5a62a6","strokeWidth":1.3},"encoding":{"y":{"field":"mean","type":"quantitative","scale":{"domain":[200,400],"nice":false,"zero":false},"axis":null}}},
  {"data":{"name":"pts"},"transform":[{"filter":"datum.ion=='Cl'"}],"mark":{"type":"point","shape":"triangle-up","filled":true,"size":144,"stroke":"#800000","strokeWidth":0.8,"opacity":1},"encoding":{"x":{"field":"day","type":"quantitative","scale":{"domain":[0,365],"nice":false},"axis":null},"y":{"field":"val","type":"quantitative","scale":{"domain":[200,400],"nice":false,"zero":false},"axis":{"orient":"left","values":[200,220,240,260,280,300,320,340,360,380,400],"labelExpr":"abs(datum.value/40-round(datum.value/40))<0.001 ? format(datum.value,'~g') : ''","title":"mg/L","titleFontSize":24,"titlePadding":10,"tickSize":8,"labelPadding":14}},"fill":{"field":"site","type":"nominal","scale":{"range":["#e50000"]},"legend":{"title":null}}}},
  {"data":{"name":"ref"},"transform":[{"filter":"datum.ion=='Cl'"}],"mark":{"type":"text","align":"right","baseline":"middle","font":"Liberation Sans","fontWeight":"bold","fontSize":38,"color":"#8a8a8a"},"encoding":{"text":{"field":"label"},"x":{"datum":359,"type":"quantitative","scale":{"domain":[0,365],"nice":false},"axis":null},"y":{"datum":368.7,"type":"quantitative","scale":{"domain":[200,400],"nice":false,"zero":false},"axis":null}}}
 ]},
 {"width":285,"height":281,"resolve":{"axis":{"x":"independent","y":"independent"}},"layer":[
  {"data":{"name":"ref"},"transform":[{"filter":"datum.ion=='SO4'"}],"mark":{"type":"rule","color":"#a8a8a8","strokeDash":[8,6],"strokeWidth":1},"encoding":{"x":{"field":"cut","type":"quantitative","scale":{"domain":[0,365],"nice":false},"axis":null}}},
  {"data":{"name":"ref"},"transform":[{"filter":"datum.ion=='SO4'"}],"mark":{"type":"rule","color":"#5a62a6","strokeWidth":1.3},"encoding":{"y":{"field":"mean","type":"quantitative","scale":{"domain":[600,1500],"nice":false,"zero":false},"axis":null}}},
  {"data":{"name":"pts"},"transform":[{"filter":"datum.ion=='SO4'"}],"mark":{"type":"point","shape":"triangle-up","filled":true,"size":144,"stroke":"#800000","strokeWidth":0.8,"opacity":1},"encoding":{"x":{"field":"day","type":"quantitative","scale":{"domain":[0,365],"nice":false},"axis":null},"y":{"field":"val","type":"quantitative","scale":{"domain":[600,1500],"nice":false,"zero":false},"axis":{"orient":"left","values":[600,700,800,900,1000,1100,1200,1300,1400,1500],"labelExpr":"abs(datum.value/200-round(datum.value/200))<0.001 ? format(datum.value,'~g') : ''","title":null,"tickSize":8,"labelPadding":14}},"fill":{"field":"site","type":"nominal","scale":{"range":["#e50000"]},"legend":{"title":null}}}},
  {"data":{"name":"ref"},"transform":[{"filter":"datum.ion=='SO4'"}],"mark":{"type":"text","align":"right","baseline":"middle","font":"Liberation Sans","fontWeight":"bold","fontSize":38,"color":"#8a8a8a"},"encoding":{"text":{"field":"label"},"x":{"datum":361,"type":"quantitative","scale":{"domain":[0,365],"nice":false},"axis":null},"y":{"datum":1372,"type":"quantitative","scale":{"domain":[600,1500],"nice":false,"zero":false},"axis":null}}}
 ]},
 {"width":285,"height":281,"resolve":{"axis":{"x":"independent","y":"independent"}},"layer":[
  {"data":{"name":"ref"},"transform":[{"filter":"datum.ion=='HCO3'"}],"mark":{"type":"rule","color":"#a8a8a8","strokeDash":[8,6],"strokeWidth":1},"encoding":{"x":{"field":"cut","type":"quantitative","scale":{"domain":[0,365],"nice":false},"axis":null}}},
  {"data":{"name":"ref"},"transform":[{"filter":"datum.ion=='HCO3'"}],"mark":{"type":"rule","color":"#5a62a6","strokeWidth":1.3},"encoding":{"y":{"field":"mean","type":"quantitative","scale":{"domain":[160,320],"nice":false,"zero":false},"axis":null}}},
  {"data":{"name":"pts"},"transform":[{"filter":"datum.ion=='HCO3'"}],"mark":{"type":"point","shape":"triangle-up","filled":true,"size":144,"stroke":"#800000","strokeWidth":0.8,"opacity":1},"encoding":{"x":{"field":"day","type":"quantitative","scale":{"domain":[0,365],"nice":false},"axis":null},"y":{"field":"val","type":"quantitative","scale":{"domain":[160,320],"nice":false,"zero":false},"axis":{"orient":"left","values":[160,180,200,220,240,260,280,300,320],"labelExpr":"abs(datum.value/40-round(datum.value/40))<0.001 ? format(datum.value,'~g') : ''","title":null,"tickSize":8,"labelPadding":14}},"fill":{"field":"site","type":"nominal","scale":{"range":["#e50000"]},"legend":{"title":null}}}},
  {"data":{"name":"ref"},"transform":[{"filter":"datum.ion=='HCO3'"}],"mark":{"type":"text","align":"right","baseline":"middle","font":"Liberation Sans","fontWeight":"bold","fontSize":38,"color":"#8a8a8a"},"encoding":{"text":{"field":"label"},"x":{"datum":363,"type":"quantitative","scale":{"domain":[0,365],"nice":false},"axis":null},"y":{"datum":297.8,"type":"quantitative","scale":{"domain":[160,320],"nice":false,"zero":false},"axis":null}}}
 ]},
 {"width":285,"height":281,"resolve":{"axis":{"x":"independent","y":"independent"}},"layer":[
  {"data":{"name":"ref"},"transform":[{"filter":"datum.ion=='Na'"}],"mark":{"type":"rule","color":"#a8a8a8","strokeDash":[8,6],"strokeWidth":1},"encoding":{"x":{"field":"cut","type":"quantitative","scale":{"domain":[0,365],"nice":false},"axis":null}}},
  {"data":{"name":"ref"},"transform":[{"filter":"datum.ion=='Na'"}],"mark":{"type":"rule","color":"#5a62a6","strokeWidth":1.3},"encoding":{"y":{"field":"mean","type":"quantitative","scale":{"domain":[200,360],"nice":false,"zero":false},"axis":null}}},
  {"data":{"name":"pts"},"transform":[{"filter":"datum.ion=='Na'"}],"mark":{"type":"point","shape":"triangle-up","filled":true,"size":144,"stroke":"#800000","strokeWidth":0.8,"opacity":1},"encoding":{"x":{"field":"day","type":"quantitative","scale":{"domain":[0,365],"nice":false},"axis":null},"y":{"field":"val","type":"quantitative","scale":{"domain":[200,360],"nice":false,"zero":false},"axis":{"orient":"left","values":[200,220,240,260,280,300,320,340,360],"labelExpr":"abs(datum.value/40-round(datum.value/40))<0.001 ? format(datum.value,'~g') : ''","title":"mg/L","titleFontSize":24,"titlePadding":10,"tickSize":8,"labelPadding":14}},"fill":{"field":"site","type":"nominal","scale":{"range":["#e50000"]},"legend":{"title":null}}}},
  {"data":{"name":"ref"},"transform":[{"filter":"datum.ion=='Na'"}],"mark":{"type":"text","align":"right","baseline":"middle","font":"Liberation Sans","fontWeight":"bold","fontSize":38,"color":"#8a8a8a"},"encoding":{"text":{"field":"label"},"x":{"datum":356,"type":"quantitative","scale":{"domain":[0,365],"nice":false},"axis":null},"y":{"datum":340.6,"type":"quantitative","scale":{"domain":[200,360],"nice":false,"zero":false},"axis":null}}}
 ]},
 {"width":285,"height":281,"resolve":{"axis":{"x":"independent","y":"independent"}},"layer":[
  {"data":{"name":"ref"},"transform":[{"filter":"datum.ion=='Ca'"}],"mark":{"type":"rule","color":"#a8a8a8","strokeDash":[8,6],"strokeWidth":1},"encoding":{"x":{"field":"cut","type":"quantitative","scale":{"domain":[0,365],"nice":false},"axis":null}}},
  {"data":{"name":"ref"},"transform":[{"filter":"datum.ion=='Ca'"}],"mark":{"type":"rule","color":"#5a62a6","strokeWidth":1.3},"encoding":{"y":{"field":"mean","type":"quantitative","scale":{"domain":[100,350],"nice":false,"zero":false},"axis":null}}},
  {"data":{"name":"pts"},"transform":[{"filter":"datum.ion=='Ca'"}],"mark":{"type":"point","shape":"triangle-up","filled":true,"size":144,"stroke":"#800000","strokeWidth":0.8,"opacity":1},"encoding":{"x":{"field":"day","type":"quantitative","scale":{"domain":[0,365],"nice":false},"axis":null},"y":{"field":"val","type":"quantitative","scale":{"domain":[100,350],"nice":false,"zero":false},"axis":{"orient":"left","values":[100,125,150,175,200,225,250,275,300,325,350],"labelExpr":"abs(datum.value/50-round(datum.value/50))<0.001 ? format(datum.value,'~g') : ''","title":null,"tickSize":8,"labelPadding":14}},"fill":{"field":"site","type":"nominal","scale":{"range":["#e50000"]},"legend":{"title":null}}}},
  {"data":{"name":"ref"},"transform":[{"filter":"datum.ion=='Ca'"}],"mark":{"type":"text","align":"right","baseline":"middle","font":"Liberation Sans","fontWeight":"bold","fontSize":38,"color":"#8a8a8a"},"encoding":{"text":{"field":"label"},"x":{"datum":354,"type":"quantitative","scale":{"domain":[0,365],"nice":false},"axis":null},"y":{"datum":319.7,"type":"quantitative","scale":{"domain":[100,350],"nice":false,"zero":false},"axis":null}}}
 ]},
 {"width":285,"height":281,"resolve":{"axis":{"x":"independent","y":"independent"}},"layer":[
  {"data":{"name":"ref"},"transform":[{"filter":"datum.ion=='Mg'"}],"mark":{"type":"rule","color":"#a8a8a8","strokeDash":[8,6],"strokeWidth":1},"encoding":{"x":{"field":"cut","type":"quantitative","scale":{"domain":[0,365],"nice":false},"axis":null}}},
  {"data":{"name":"ref"},"transform":[{"filter":"datum.ion=='Mg'"}],"mark":{"type":"rule","color":"#5a62a6","strokeWidth":1.3},"encoding":{"y":{"field":"mean","type":"quantitative","scale":{"domain":[50,120],"nice":false,"zero":false},"axis":null}}},
  {"data":{"name":"pts"},"transform":[{"filter":"datum.ion=='Mg'"}],"mark":{"type":"point","shape":"triangle-up","filled":true,"size":144,"stroke":"#800000","strokeWidth":0.8,"opacity":1},"encoding":{"x":{"field":"day","type":"quantitative","scale":{"domain":[0,365],"nice":false},"axis":null},"y":{"field":"val","type":"quantitative","scale":{"domain":[50,120],"nice":false,"zero":false},"axis":{"orient":"left","values":[50,60,70,80,90,100,110,120],"labelExpr":"abs(datum.value/20-round(datum.value/20))<0.001 ? format(datum.value,'~g') : ''","title":null,"tickSize":8,"labelPadding":14}},"fill":{"field":"site","type":"nominal","scale":{"range":["#e50000"]},"legend":{"title":null}}}},
  {"data":{"name":"ref"},"transform":[{"filter":"datum.ion=='Mg'"}],"mark":{"type":"text","align":"right","baseline":"middle","font":"Liberation Sans","fontWeight":"bold","fontSize":38,"color":"#8a8a8a"},"encoding":{"text":{"field":"label"},"x":{"datum":353,"type":"quantitative","scale":{"domain":[0,365],"nice":false},"axis":null},"y":{"datum":111.5,"type":"quantitative","scale":{"domain":[50,120],"nice":false,"zero":false},"axis":null}}}
 ]},
 {"width":285,"height":281,"resolve":{"axis":{"x":"independent","y":"independent"}},"layer":[
  {"data":{"name":"ref"},"transform":[{"filter":"datum.ion=='K'"}],"mark":{"type":"rule","color":"#a8a8a8","strokeDash":[8,6],"strokeWidth":1},"encoding":{"x":{"field":"cut","type":"quantitative","scale":{"domain":[0,365],"nice":false},"axis":null}}},
  {"data":{"name":"ref"},"transform":[{"filter":"datum.ion=='K'"}],"mark":{"type":"rule","color":"#5a62a6","strokeWidth":1.3},"encoding":{"y":{"field":"mean","type":"quantitative","scale":{"domain":[0,60],"nice":false,"zero":false},"axis":null}}},
  {"data":{"name":"pts"},"transform":[{"filter":"datum.ion=='K'"}],"mark":{"type":"point","shape":"triangle-up","filled":true,"size":144,"stroke":"#800000","strokeWidth":0.8,"opacity":1},"encoding":{"x":{"field":"day","type":"quantitative","scale":{"domain":[0,365],"nice":false},"axis":null},"y":{"field":"val","type":"quantitative","scale":{"domain":[0,60],"nice":false,"zero":false},"axis":{"orient":"left","values":[0,10,20,30,40,50,60],"labelExpr":"abs(datum.value/20-round(datum.value/20))<0.001 ? format(datum.value,'~g') : ''","title":"mg/L","titleFontSize":24,"titlePadding":10,"tickSize":8,"labelPadding":14}},"fill":{"field":"site","type":"nominal","scale":{"range":["#e50000"]},"legend":{"title":null}}}},
  {"data":{"name":"ref"},"transform":[{"filter":"datum.ion=='K'"}],"mark":{"type":"text","align":"right","baseline":"middle","font":"Liberation Sans","fontWeight":"bold","fontSize":38,"color":"#8a8a8a"},"encoding":{"text":{"field":"label"},"x":{"datum":359,"type":"quantitative","scale":{"domain":[0,365],"nice":false},"axis":null},"y":{"datum":53.4,"type":"quantitative","scale":{"domain":[0,60],"nice":false,"zero":false},"axis":null}}}
 ]},
 {"width":285,"height":281,"resolve":{"axis":{"x":"independent","y":"independent"}},"layer":[
  {"data":{"name":"ref"},"transform":[{"filter":"datum.ion=='F'"}],"mark":{"type":"rule","color":"#a8a8a8","strokeDash":[8,6],"strokeWidth":1},"encoding":{"x":{"field":"cut","type":"quantitative","scale":{"domain":[0,365],"nice":false},"axis":null}}},
  {"data":{"name":"ref"},"transform":[{"filter":"datum.ion=='F'"}],"mark":{"type":"rule","color":"#5a62a6","strokeWidth":1.3},"encoding":{"y":{"field":"mean","type":"quantitative","scale":{"domain":[0,2.5],"nice":false,"zero":false},"axis":null}}},
  {"data":{"name":"pts"},"transform":[{"filter":"datum.ion=='F'"}],"mark":{"type":"point","shape":"triangle-up","filled":true,"size":144,"stroke":"#800000","strokeWidth":0.8,"opacity":1},"encoding":{"x":{"field":"day","type":"quantitative","scale":{"domain":[0,365],"nice":false},"axis":null},"y":{"field":"val","type":"quantitative","scale":{"domain":[0,2.5],"nice":false,"zero":false},"axis":{"orient":"left","values":[0,0.25,0.5,0.75,1,1.25,1.5,1.75,2,2.25,2.5],"labelExpr":"abs(datum.value/0.5-round(datum.value/0.5))<0.001 ? format(datum.value,'~g') : ''","title":null,"tickSize":8,"labelPadding":14}},"fill":{"field":"site","type":"nominal","scale":{"range":["#e50000"]},"legend":{"title":null}}}},
  {"data":{"name":"ref"},"transform":[{"filter":"datum.ion=='F'"}],"mark":{"type":"text","align":"right","baseline":"middle","font":"Liberation Sans","fontWeight":"bold","fontSize":38,"color":"#8a8a8a"},"encoding":{"text":{"field":"label"},"x":{"datum":350,"type":"quantitative","scale":{"domain":[0,365],"nice":false},"axis":null},"y":{"datum":2.215,"type":"quantitative","scale":{"domain":[0,2.5],"nice":false,"zero":false},"axis":null}}}
 ]},
 {"width":285,"height":281,"resolve":{"axis":{"x":"independent","y":"independent"}},"layer":[
  {"data":{"name":"ref"},"transform":[{"filter":"datum.ion=='SiO2'"}],"mark":{"type":"rule","color":"#a8a8a8","strokeDash":[8,6],"strokeWidth":1},"encoding":{"x":{"field":"cut","type":"quantitative","scale":{"domain":[0,365],"nice":false},"axis":null}}},
  {"data":{"name":"ref"},"transform":[{"filter":"datum.ion=='SiO2'"}],"mark":{"type":"rule","color":"#5a62a6","strokeWidth":1.3},"encoding":{"y":{"field":"mean","type":"quantitative","scale":{"domain":[30,80],"nice":false,"zero":false},"axis":null}}},
  {"data":{"name":"pts"},"transform":[{"filter":"datum.ion=='SiO2'"}],"mark":{"type":"point","shape":"triangle-up","filled":true,"size":144,"stroke":"#800000","strokeWidth":0.8,"opacity":1},"encoding":{"x":{"field":"day","type":"quantitative","scale":{"domain":[0,365],"nice":false},"axis":null},"y":{"field":"val","type":"quantitative","scale":{"domain":[30,80],"nice":false,"zero":false},"axis":{"orient":"left","values":[30,35,40,45,50,55,60,65,70,75,80],"labelExpr":"abs(datum.value/10-round(datum.value/10))<0.001 ? format(datum.value,'~g') : ''","title":null,"tickSize":8,"labelPadding":14}},"fill":{"field":"site","type":"nominal","scale":{"range":["#e50000"]},"legend":{"title":null}}}},
  {"data":{"name":"ref"},"transform":[{"filter":"datum.ion=='SiO2'"}],"mark":{"type":"text","align":"right","baseline":"middle","font":"Liberation Sans","fontWeight":"bold","fontSize":38,"color":"#8a8a8a"},"encoding":{"text":{"field":"label"},"x":{"datum":363,"type":"quantitative","scale":{"domain":[0,365],"nice":false},"axis":null},"y":{"datum":74.1,"type":"quantitative","scale":{"domain":[30,80],"nice":false,"zero":false},"axis":null}}}
 ]},
 {"width":285,"height":281,"resolve":{"axis":{"x":"independent","y":"independent"}},"layer":[
  {"data":{"name":"ref"},"transform":[{"filter":"datum.ion=='Li'"}],"mark":{"type":"rule","color":"#a8a8a8","strokeDash":[8,6],"strokeWidth":1},"encoding":{"x":{"field":"cut","type":"quantitative","scale":{"domain":[0,365],"nice":false},"axis":{"orient":"top","values":[59,120,181,243,304],"labels":false,"domain":false,"tickSize":-6,"title":null}}}},
  {"data":{"name":"ref"},"transform":[{"filter":"datum.ion=='Li'"}],"mark":{"type":"rule","color":"#5a62a6","strokeWidth":1.3},"encoding":{"y":{"field":"mean","type":"quantitative","scale":{"domain":[0,0.5],"nice":false,"zero":false},"axis":null}}},
  {"data":{"name":"pts"},"transform":[{"filter":"datum.ion=='Li'"}],"mark":{"type":"point","shape":"triangle-up","filled":true,"size":144,"stroke":"#800000","strokeWidth":0.8,"opacity":1},"encoding":{"x":{"field":"day","type":"quantitative","scale":{"domain":[0,365],"nice":false},"axis":{"orient":"bottom","values":[0,31,59,90,120,151,181,212,243,273,304,334,365],"labelExpr":"datum.value >= 365 ? '' : ['E','F','M','A','M','J','J','A','S','O','N','D'][indexof([0,31,59,90,120,151,181,212,243,273,304,334], datum.value)]","labelOffset":12,"tickSize":-6,"labelPadding":12,"labelFontSize":11,"labelColor":"#222","title":"2018","titleFontSize":28,"titlePadding":14}},"y":{"field":"val","type":"quantitative","scale":{"domain":[0,0.5],"nice":false,"zero":false},"axis":{"orient":"left","values":[0,0.05,0.1,0.15,0.2,0.25,0.3,0.35,0.4,0.45,0.5],"labelExpr":"abs(datum.value/0.1-round(datum.value/0.1))<0.001 ? format(datum.value,'~g') : ''","title":"mg/L","titleFontSize":24,"titlePadding":10,"tickSize":8,"labelPadding":14}},"fill":{"field":"site","type":"nominal","scale":{"range":["#e50000"]},"legend":{"title":null}}}},
  {"data":{"name":"ref"},"transform":[{"filter":"datum.ion=='Li'"}],"mark":{"type":"text","align":"right","baseline":"middle","font":"Liberation Sans","fontWeight":"bold","fontSize":38,"color":"#8a8a8a"},"encoding":{"text":{"field":"label"},"x":{"datum":359,"type":"quantitative","scale":{"domain":[0,365],"nice":false},"axis":null},"y":{"datum":0.443,"type":"quantitative","scale":{"domain":[0,0.5],"nice":false,"zero":false},"axis":null}}},
  {"data":{"name":"ref"},"transform":[{"filter":"datum.ion=='Li'"}],"mark":{"type":"text","align":"center","baseline":"middle","font":"Liberation Sans","fontSize":7,"color":"#b0b0b0","text":"PMA/19"},"encoding":{"x":{"datum":-18,"type":"quantitative","scale":{"domain":[0,365],"nice":false},"axis":null},"y":{"datum":-0.087,"type":"quantitative","scale":{"domain":[0,0.5],"nice":false,"zero":false},"axis":null}}}
 ]},
 {"width":285,"height":281,"resolve":{"axis":{"x":"independent","y":"independent"}},"layer":[
  {"data":{"name":"ref"},"transform":[{"filter":"datum.ion=='As'"}],"mark":{"type":"rule","color":"#a8a8a8","strokeDash":[8,6],"strokeWidth":1},"encoding":{"x":{"field":"cut","type":"quantitative","scale":{"domain":[0,365],"nice":false},"axis":{"orient":"top","values":[59,120,181,243,304],"labels":false,"domain":false,"tickSize":-6,"title":null}}}},
  {"data":{"name":"ref"},"transform":[{"filter":"datum.ion=='As'"}],"mark":{"type":"rule","color":"#5a62a6","strokeWidth":1.3},"encoding":{"y":{"field":"mean","type":"quantitative","scale":{"domain":[0,0.25],"nice":false,"zero":false},"axis":null}}},
  {"data":{"name":"pts"},"transform":[{"filter":"datum.ion=='As'"}],"mark":{"type":"point","shape":"triangle-up","filled":true,"size":144,"stroke":"#800000","strokeWidth":0.8,"opacity":1},"encoding":{"x":{"field":"day","type":"quantitative","scale":{"domain":[0,365],"nice":false},"axis":{"orient":"bottom","values":[0,31,59,90,120,151,181,212,243,273,304,334,365],"labelExpr":"datum.value >= 365 ? '' : ['E','F','M','A','M','J','J','A','S','O','N','D'][indexof([0,31,59,90,120,151,181,212,243,273,304,334], datum.value)]","labelOffset":12,"tickSize":-6,"labelPadding":12,"labelFontSize":11,"labelColor":"#222","title":"2018","titleFontSize":28,"titlePadding":14}},"y":{"field":"val","type":"quantitative","scale":{"domain":[0,0.25],"nice":false,"zero":false},"axis":{"orient":"left","values":[0,0.025,0.05,0.075,0.1,0.125,0.15,0.175,0.2,0.225,0.25],"labelExpr":"abs(datum.value/0.05-round(datum.value/0.05))<0.001 ? format(datum.value,'~g') : ''","title":null,"tickSize":8,"labelPadding":14}},"fill":{"field":"site","type":"nominal","scale":{"range":["#e50000"]},"legend":{"title":null}}}},
  {"data":{"name":"ref"},"transform":[{"filter":"datum.ion=='As'"}],"mark":{"type":"text","align":"right","baseline":"middle","font":"Liberation Sans","fontWeight":"bold","fontSize":38,"color":"#8a8a8a"},"encoding":{"text":{"field":"label"},"x":{"datum":359,"type":"quantitative","scale":{"domain":[0,365],"nice":false},"axis":null},"y":{"datum":0.2215,"type":"quantitative","scale":{"domain":[0,0.25],"nice":false,"zero":false},"axis":null}}}
 ]},
 {"width":285,"height":281,"resolve":{"axis":{"x":"independent","y":"independent"}},"layer":[
  {"data":{"name":"ref"},"transform":[{"filter":"datum.ion=='Fe'"}],"mark":{"type":"rule","color":"#a8a8a8","strokeDash":[8,6],"strokeWidth":1},"encoding":{"x":{"field":"cut","type":"quantitative","scale":{"domain":[0,365],"nice":false},"axis":{"orient":"top","values":[59,120,181,243,304],"labels":false,"domain":false,"tickSize":-6,"title":null}}}},
  {"data":{"name":"ref"},"transform":[{"filter":"datum.ion=='Fe'"}],"mark":{"type":"rule","color":"#5a62a6","strokeWidth":1.3},"encoding":{"y":{"field":"mean","type":"quantitative","scale":{"domain":[0,5],"nice":false,"zero":false},"axis":null}}},
  {"data":{"name":"pts"},"transform":[{"filter":"datum.ion=='Fe'"}],"mark":{"type":"point","shape":"triangle-up","filled":true,"size":144,"stroke":"#800000","strokeWidth":0.8,"opacity":1},"encoding":{"x":{"field":"day","type":"quantitative","scale":{"domain":[0,365],"nice":false},"axis":{"orient":"bottom","values":[0,31,59,90,120,151,181,212,243,273,304,334,365],"labelExpr":"datum.value >= 365 ? '' : ['E','F','M','A','M','J','J','A','S','O','N','D'][indexof([0,31,59,90,120,151,181,212,243,273,304,334], datum.value)]","labelOffset":12,"tickSize":-6,"labelPadding":12,"labelFontSize":11,"labelColor":"#222","title":"2018","titleFontSize":28,"titlePadding":14}},"y":{"field":"val","type":"quantitative","scale":{"domain":[0,5],"nice":false,"zero":false},"axis":{"orient":"left","values":[0,0.5,1,1.5,2,2.5,3,3.5,4,4.5,5],"labelExpr":"abs(datum.value/1-round(datum.value/1))<0.001 ? format(datum.value,'~g') : ''","title":null,"tickSize":8,"labelPadding":14}},"fill":{"field":"site","type":"nominal","scale":{"range":["#e50000"]},"legend":{"title":null}}}},
  {"data":{"name":"ref"},"transform":[{"filter":"datum.ion=='Fe'"}],"mark":{"type":"text","align":"right","baseline":"middle","font":"Liberation Sans","fontWeight":"bold","fontSize":38,"color":"#8a8a8a"},"encoding":{"text":{"field":"label"},"x":{"datum":363,"type":"quantitative","scale":{"domain":[0,365],"nice":false},"axis":null},"y":{"datum":4.395,"type":"quantitative","scale":{"domain":[0,5],"nice":false,"zero":false},"axis":null}}}
 ]}
]
}
